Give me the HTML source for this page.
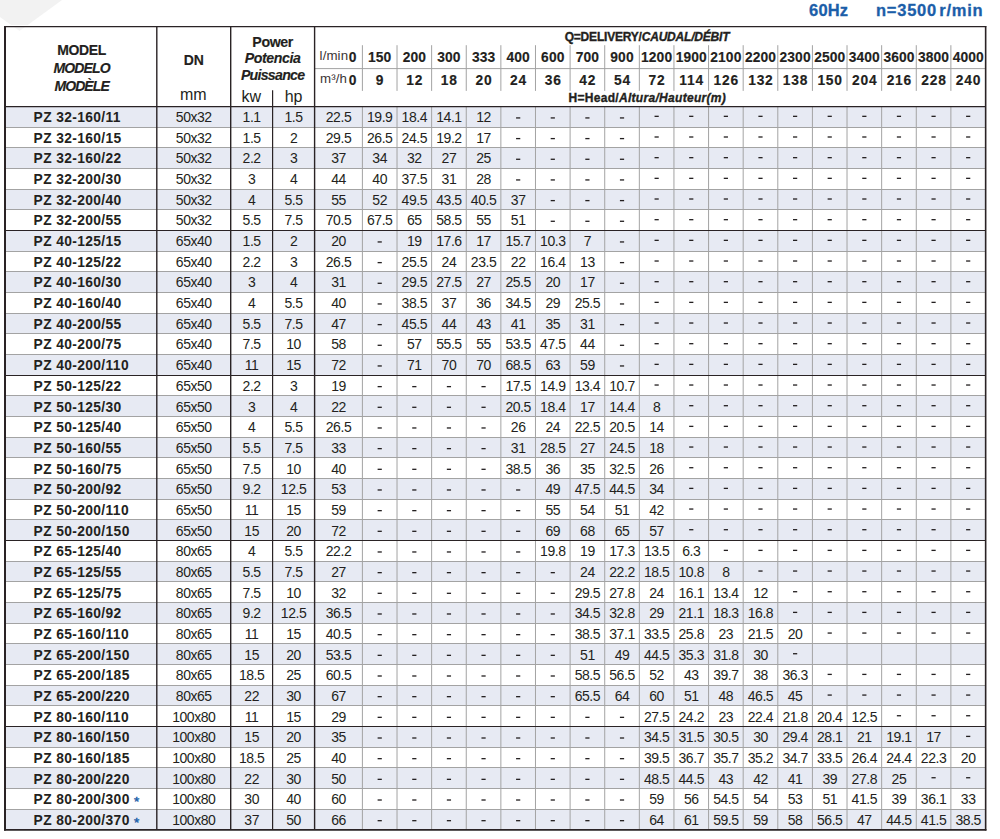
<!DOCTYPE html>
<html><head><meta charset="utf-8"><title>PZ 60Hz</title>
<style>
html,body{margin:0;padding:0;background:#fff;}
body{width:1000px;height:839px;position:relative;overflow:hidden;font-family:"Liberation Sans",sans-serif;color:#231f20;}
div{position:absolute;white-space:nowrap;}
.b{font-weight:bold;-webkit-text-stroke-width:0.15px;}
</style></head><body>
<svg width="1000" height="839" viewBox="0 0 1000 839" style="position:absolute;left:0;top:0"><polygon points="0,0 62,0 19.5,31 0,17" fill="#f2f2f2"/><rect x="0" y="25" width="80" height="1.3" fill="#fff"/><rect x="4.5" y="26.6" width="981.0" height="803.1149999999999" fill="#fff" fill-opacity="0.25"/><rect x="4.5" y="106" width="981.0" height="22" fill="#e7eaf3"/><rect x="4.5" y="147" width="981.0" height="22" fill="#e7eaf3"/><rect x="4.5" y="189" width="981.0" height="21" fill="#e7eaf3"/><rect x="4.5" y="230" width="981.0" height="22" fill="#e7eaf3"/><rect x="4.5" y="271" width="981.0" height="22" fill="#e7eaf3"/><rect x="4.5" y="313" width="981.0" height="21" fill="#e7eaf3"/><rect x="4.5" y="354" width="981.0" height="22" fill="#e7eaf3"/><rect x="4.5" y="395" width="981.0" height="22" fill="#e7eaf3"/><rect x="4.5" y="437" width="981.0" height="21" fill="#e7eaf3"/><rect x="4.5" y="478" width="981.0" height="22" fill="#e7eaf3"/><rect x="4.5" y="519" width="981.0" height="22" fill="#e7eaf3"/><rect x="4.5" y="561" width="981.0" height="21" fill="#e7eaf3"/><rect x="4.5" y="602" width="981.0" height="22" fill="#e7eaf3"/><rect x="4.5" y="643" width="981.0" height="22" fill="#e7eaf3"/><rect x="4.5" y="685" width="981.0" height="21" fill="#e7eaf3"/><rect x="4.5" y="726" width="981.0" height="22" fill="#e7eaf3"/><rect x="4.5" y="767" width="981.0" height="22" fill="#e7eaf3"/><rect x="4.5" y="809" width="981.0" height="21" fill="#e7eaf3"/><line x1="4.5" y1="127.50" x2="985.5" y2="127.50" stroke="#a3a3a3" stroke-width="1"/><line x1="4.5" y1="147.50" x2="985.5" y2="147.50" stroke="#a3a3a3" stroke-width="1"/><line x1="4.5" y1="168.50" x2="985.5" y2="168.50" stroke="#a3a3a3" stroke-width="1"/><line x1="4.5" y1="189.50" x2="985.5" y2="189.50" stroke="#a3a3a3" stroke-width="1"/><line x1="4.5" y1="209.50" x2="985.5" y2="209.50" stroke="#a3a3a3" stroke-width="1"/><line x1="4.5" y1="251.50" x2="985.5" y2="251.50" stroke="#a3a3a3" stroke-width="1"/><line x1="4.5" y1="271.50" x2="985.5" y2="271.50" stroke="#a3a3a3" stroke-width="1"/><line x1="4.5" y1="292.50" x2="985.5" y2="292.50" stroke="#a3a3a3" stroke-width="1"/><line x1="4.5" y1="313.50" x2="985.5" y2="313.50" stroke="#a3a3a3" stroke-width="1"/><line x1="4.5" y1="333.50" x2="985.5" y2="333.50" stroke="#a3a3a3" stroke-width="1"/><line x1="4.5" y1="354.50" x2="985.5" y2="354.50" stroke="#a3a3a3" stroke-width="1"/><line x1="4.5" y1="395.50" x2="985.5" y2="395.50" stroke="#a3a3a3" stroke-width="1"/><line x1="4.5" y1="416.50" x2="985.5" y2="416.50" stroke="#a3a3a3" stroke-width="1"/><line x1="4.5" y1="437.50" x2="985.5" y2="437.50" stroke="#a3a3a3" stroke-width="1"/><line x1="4.5" y1="457.50" x2="985.5" y2="457.50" stroke="#a3a3a3" stroke-width="1"/><line x1="4.5" y1="478.50" x2="985.5" y2="478.50" stroke="#a3a3a3" stroke-width="1"/><line x1="4.5" y1="499.50" x2="985.5" y2="499.50" stroke="#a3a3a3" stroke-width="1"/><line x1="4.5" y1="519.50" x2="985.5" y2="519.50" stroke="#a3a3a3" stroke-width="1"/><line x1="4.5" y1="561.50" x2="985.5" y2="561.50" stroke="#a3a3a3" stroke-width="1"/><line x1="4.5" y1="581.50" x2="985.5" y2="581.50" stroke="#a3a3a3" stroke-width="1"/><line x1="4.5" y1="602.50" x2="985.5" y2="602.50" stroke="#a3a3a3" stroke-width="1"/><line x1="4.5" y1="623.50" x2="985.5" y2="623.50" stroke="#a3a3a3" stroke-width="1"/><line x1="4.5" y1="643.50" x2="985.5" y2="643.50" stroke="#a3a3a3" stroke-width="1"/><line x1="4.5" y1="664.50" x2="985.5" y2="664.50" stroke="#a3a3a3" stroke-width="1"/><line x1="4.5" y1="685.50" x2="985.5" y2="685.50" stroke="#a3a3a3" stroke-width="1"/><line x1="4.5" y1="705.50" x2="985.5" y2="705.50" stroke="#a3a3a3" stroke-width="1"/><line x1="4.5" y1="747.50" x2="985.5" y2="747.50" stroke="#a3a3a3" stroke-width="1"/><line x1="4.5" y1="767.50" x2="985.5" y2="767.50" stroke="#a3a3a3" stroke-width="1"/><line x1="4.5" y1="788.50" x2="985.5" y2="788.50" stroke="#a3a3a3" stroke-width="1"/><line x1="4.5" y1="809.50" x2="985.5" y2="809.50" stroke="#a3a3a3" stroke-width="1"/><line x1="362.40" y1="106.3" x2="362.40" y2="829.71" stroke="#a3a3a3" stroke-width="1"/><line x1="362.40" y1="45.2" x2="362.40" y2="90.9" stroke="#a3a3a3" stroke-width="1"/><line x1="397.02" y1="106.3" x2="397.02" y2="829.71" stroke="#a3a3a3" stroke-width="1"/><line x1="397.02" y1="45.2" x2="397.02" y2="90.9" stroke="#a3a3a3" stroke-width="1"/><line x1="431.63" y1="106.3" x2="431.63" y2="829.71" stroke="#a3a3a3" stroke-width="1"/><line x1="431.63" y1="45.2" x2="431.63" y2="90.9" stroke="#a3a3a3" stroke-width="1"/><line x1="466.25" y1="106.3" x2="466.25" y2="829.71" stroke="#a3a3a3" stroke-width="1"/><line x1="466.25" y1="45.2" x2="466.25" y2="90.9" stroke="#a3a3a3" stroke-width="1"/><line x1="500.87" y1="106.3" x2="500.87" y2="829.71" stroke="#a3a3a3" stroke-width="1"/><line x1="500.87" y1="45.2" x2="500.87" y2="90.9" stroke="#a3a3a3" stroke-width="1"/><line x1="535.48" y1="106.3" x2="535.48" y2="829.71" stroke="#a3a3a3" stroke-width="1"/><line x1="535.48" y1="45.2" x2="535.48" y2="90.9" stroke="#a3a3a3" stroke-width="1"/><line x1="570.10" y1="106.3" x2="570.10" y2="829.71" stroke="#a3a3a3" stroke-width="1"/><line x1="570.10" y1="45.2" x2="570.10" y2="90.9" stroke="#a3a3a3" stroke-width="1"/><line x1="604.72" y1="106.3" x2="604.72" y2="829.71" stroke="#a3a3a3" stroke-width="1"/><line x1="604.72" y1="45.2" x2="604.72" y2="90.9" stroke="#a3a3a3" stroke-width="1"/><line x1="639.33" y1="106.3" x2="639.33" y2="829.71" stroke="#a3a3a3" stroke-width="1"/><line x1="639.33" y1="45.2" x2="639.33" y2="90.9" stroke="#a3a3a3" stroke-width="1"/><line x1="673.95" y1="106.3" x2="673.95" y2="829.71" stroke="#a3a3a3" stroke-width="1"/><line x1="673.95" y1="45.2" x2="673.95" y2="90.9" stroke="#a3a3a3" stroke-width="1"/><line x1="708.57" y1="106.3" x2="708.57" y2="829.71" stroke="#a3a3a3" stroke-width="1"/><line x1="708.57" y1="45.2" x2="708.57" y2="90.9" stroke="#a3a3a3" stroke-width="1"/><line x1="743.18" y1="106.3" x2="743.18" y2="829.71" stroke="#a3a3a3" stroke-width="1"/><line x1="743.18" y1="45.2" x2="743.18" y2="90.9" stroke="#a3a3a3" stroke-width="1"/><line x1="777.80" y1="106.3" x2="777.80" y2="829.71" stroke="#a3a3a3" stroke-width="1"/><line x1="777.80" y1="45.2" x2="777.80" y2="90.9" stroke="#a3a3a3" stroke-width="1"/><line x1="812.42" y1="106.3" x2="812.42" y2="829.71" stroke="#a3a3a3" stroke-width="1"/><line x1="812.42" y1="45.2" x2="812.42" y2="90.9" stroke="#a3a3a3" stroke-width="1"/><line x1="847.03" y1="106.3" x2="847.03" y2="829.71" stroke="#a3a3a3" stroke-width="1"/><line x1="847.03" y1="45.2" x2="847.03" y2="90.9" stroke="#a3a3a3" stroke-width="1"/><line x1="881.65" y1="106.3" x2="881.65" y2="829.71" stroke="#a3a3a3" stroke-width="1"/><line x1="881.65" y1="45.2" x2="881.65" y2="90.9" stroke="#a3a3a3" stroke-width="1"/><line x1="916.27" y1="106.3" x2="916.27" y2="829.71" stroke="#a3a3a3" stroke-width="1"/><line x1="916.27" y1="45.2" x2="916.27" y2="90.9" stroke="#a3a3a3" stroke-width="1"/><line x1="950.88" y1="106.3" x2="950.88" y2="829.71" stroke="#a3a3a3" stroke-width="1"/><line x1="950.88" y1="45.2" x2="950.88" y2="90.9" stroke="#a3a3a3" stroke-width="1"/><line x1="314.6" y1="68.6" x2="985.5" y2="68.6" stroke="#a3a3a3" stroke-width="1"/><line x1="4.5" y1="375.50" x2="985.5" y2="375.50" stroke="#2a2325" stroke-width="1.15"/><line x1="4.5" y1="540.50" x2="985.5" y2="540.50" stroke="#2a2325" stroke-width="1.15"/><line x1="4.5" y1="230.50" x2="985.5" y2="230.50" stroke="#2a2325" stroke-width="1.15"/><line x1="4.5" y1="726.50" x2="985.5" y2="726.50" stroke="#2a2325" stroke-width="1.15"/><line x1="4.5" y1="106.5" x2="985.5" y2="106.5" stroke="#2a2325" stroke-width="1.25"/><line x1="156.8" y1="26.6" x2="156.8" y2="829.71" stroke="#2a2325" stroke-width="1.4"/><line x1="230.7" y1="26.6" x2="230.7" y2="829.71" stroke="#2a2325" stroke-width="1.4"/><line x1="314.6" y1="26.6" x2="314.6" y2="829.71" stroke="#2a2325" stroke-width="1.4"/><line x1="272.6" y1="90.3" x2="272.6" y2="829.71" stroke="#2a2325" stroke-width="1.2"/><line x1="4.0" y1="26.6" x2="986.3" y2="26.6" stroke="#2a2325" stroke-width="1.4"/><line x1="5.0" y1="25.900000000000002" x2="5.0" y2="830.61" stroke="#2a2325" stroke-width="2"/><line x1="985.65" y1="25.900000000000002" x2="985.65" y2="830.61" stroke="#2a2325" stroke-width="1.6"/><line x1="4.0" y1="829.91" x2="986.45" y2="829.91" stroke="#2a2325" stroke-width="1.8"/></svg>
<svg width="1000" height="839" style="position:absolute;left:0;top:0"><rect x="516.07" y="117.28" width="4.2" height="1.3" fill="#231f20"/><rect x="550.69" y="117.28" width="4.2" height="1.3" fill="#231f20"/><rect x="585.31" y="117.28" width="4.2" height="1.3" fill="#231f20"/><rect x="619.92" y="117.28" width="4.2" height="1.3" fill="#231f20"/><rect x="654.54" y="115.68" width="4.2" height="1.3" fill="#231f20"/><rect x="689.16" y="115.68" width="4.2" height="1.3" fill="#231f20"/><rect x="723.77" y="115.68" width="4.2" height="1.3" fill="#231f20"/><rect x="758.39" y="115.68" width="4.2" height="1.3" fill="#231f20"/><rect x="793.01" y="115.68" width="4.2" height="1.3" fill="#231f20"/><rect x="827.62" y="115.68" width="4.2" height="1.3" fill="#231f20"/><rect x="862.24" y="115.68" width="4.2" height="1.3" fill="#231f20"/><rect x="896.86" y="115.68" width="4.2" height="1.3" fill="#231f20"/><rect x="931.48" y="115.68" width="4.2" height="1.3" fill="#231f20"/><rect x="966.09" y="115.68" width="4.2" height="1.3" fill="#231f20"/><rect x="516.07" y="137.95" width="4.2" height="1.3" fill="#231f20"/><rect x="550.69" y="137.95" width="4.2" height="1.3" fill="#231f20"/><rect x="585.31" y="137.95" width="4.2" height="1.3" fill="#231f20"/><rect x="619.92" y="137.95" width="4.2" height="1.3" fill="#231f20"/><rect x="654.54" y="136.35" width="4.2" height="1.3" fill="#231f20"/><rect x="689.16" y="136.35" width="4.2" height="1.3" fill="#231f20"/><rect x="723.77" y="136.35" width="4.2" height="1.3" fill="#231f20"/><rect x="758.39" y="136.35" width="4.2" height="1.3" fill="#231f20"/><rect x="793.01" y="136.35" width="4.2" height="1.3" fill="#231f20"/><rect x="827.62" y="136.35" width="4.2" height="1.3" fill="#231f20"/><rect x="862.24" y="136.35" width="4.2" height="1.3" fill="#231f20"/><rect x="896.86" y="136.35" width="4.2" height="1.3" fill="#231f20"/><rect x="931.48" y="136.35" width="4.2" height="1.3" fill="#231f20"/><rect x="966.09" y="136.35" width="4.2" height="1.3" fill="#231f20"/><rect x="516.07" y="158.62" width="4.2" height="1.3" fill="#231f20"/><rect x="550.69" y="158.62" width="4.2" height="1.3" fill="#231f20"/><rect x="585.31" y="158.62" width="4.2" height="1.3" fill="#231f20"/><rect x="619.92" y="158.62" width="4.2" height="1.3" fill="#231f20"/><rect x="654.54" y="157.02" width="4.2" height="1.3" fill="#231f20"/><rect x="689.16" y="157.02" width="4.2" height="1.3" fill="#231f20"/><rect x="723.77" y="157.02" width="4.2" height="1.3" fill="#231f20"/><rect x="758.39" y="157.02" width="4.2" height="1.3" fill="#231f20"/><rect x="793.01" y="157.02" width="4.2" height="1.3" fill="#231f20"/><rect x="827.62" y="157.02" width="4.2" height="1.3" fill="#231f20"/><rect x="862.24" y="157.02" width="4.2" height="1.3" fill="#231f20"/><rect x="896.86" y="157.02" width="4.2" height="1.3" fill="#231f20"/><rect x="931.48" y="157.02" width="4.2" height="1.3" fill="#231f20"/><rect x="966.09" y="157.02" width="4.2" height="1.3" fill="#231f20"/><rect x="516.07" y="179.29" width="4.2" height="1.3" fill="#231f20"/><rect x="550.69" y="179.29" width="4.2" height="1.3" fill="#231f20"/><rect x="585.31" y="179.29" width="4.2" height="1.3" fill="#231f20"/><rect x="619.92" y="179.29" width="4.2" height="1.3" fill="#231f20"/><rect x="654.54" y="177.69" width="4.2" height="1.3" fill="#231f20"/><rect x="689.16" y="177.69" width="4.2" height="1.3" fill="#231f20"/><rect x="723.77" y="177.69" width="4.2" height="1.3" fill="#231f20"/><rect x="758.39" y="177.69" width="4.2" height="1.3" fill="#231f20"/><rect x="793.01" y="177.69" width="4.2" height="1.3" fill="#231f20"/><rect x="827.62" y="177.69" width="4.2" height="1.3" fill="#231f20"/><rect x="862.24" y="177.69" width="4.2" height="1.3" fill="#231f20"/><rect x="896.86" y="177.69" width="4.2" height="1.3" fill="#231f20"/><rect x="931.48" y="177.69" width="4.2" height="1.3" fill="#231f20"/><rect x="966.09" y="177.69" width="4.2" height="1.3" fill="#231f20"/><rect x="550.69" y="199.96" width="4.2" height="1.3" fill="#231f20"/><rect x="585.31" y="199.96" width="4.2" height="1.3" fill="#231f20"/><rect x="619.92" y="199.96" width="4.2" height="1.3" fill="#231f20"/><rect x="654.54" y="198.36" width="4.2" height="1.3" fill="#231f20"/><rect x="689.16" y="198.36" width="4.2" height="1.3" fill="#231f20"/><rect x="723.77" y="198.36" width="4.2" height="1.3" fill="#231f20"/><rect x="758.39" y="198.36" width="4.2" height="1.3" fill="#231f20"/><rect x="793.01" y="198.36" width="4.2" height="1.3" fill="#231f20"/><rect x="827.62" y="198.36" width="4.2" height="1.3" fill="#231f20"/><rect x="862.24" y="198.36" width="4.2" height="1.3" fill="#231f20"/><rect x="896.86" y="198.36" width="4.2" height="1.3" fill="#231f20"/><rect x="931.48" y="198.36" width="4.2" height="1.3" fill="#231f20"/><rect x="966.09" y="198.36" width="4.2" height="1.3" fill="#231f20"/><rect x="550.69" y="220.63" width="4.2" height="1.3" fill="#231f20"/><rect x="585.31" y="220.63" width="4.2" height="1.3" fill="#231f20"/><rect x="619.92" y="220.63" width="4.2" height="1.3" fill="#231f20"/><rect x="654.54" y="219.03" width="4.2" height="1.3" fill="#231f20"/><rect x="689.16" y="219.03" width="4.2" height="1.3" fill="#231f20"/><rect x="723.77" y="219.03" width="4.2" height="1.3" fill="#231f20"/><rect x="758.39" y="219.03" width="4.2" height="1.3" fill="#231f20"/><rect x="793.01" y="219.03" width="4.2" height="1.3" fill="#231f20"/><rect x="827.62" y="219.03" width="4.2" height="1.3" fill="#231f20"/><rect x="862.24" y="219.03" width="4.2" height="1.3" fill="#231f20"/><rect x="896.86" y="219.03" width="4.2" height="1.3" fill="#231f20"/><rect x="931.48" y="219.03" width="4.2" height="1.3" fill="#231f20"/><rect x="966.09" y="219.03" width="4.2" height="1.3" fill="#231f20"/><rect x="377.61" y="241.30" width="4.2" height="1.3" fill="#231f20"/><rect x="619.92" y="241.30" width="4.2" height="1.3" fill="#231f20"/><rect x="654.54" y="239.70" width="4.2" height="1.3" fill="#231f20"/><rect x="689.16" y="239.70" width="4.2" height="1.3" fill="#231f20"/><rect x="723.77" y="239.70" width="4.2" height="1.3" fill="#231f20"/><rect x="758.39" y="239.70" width="4.2" height="1.3" fill="#231f20"/><rect x="793.01" y="239.70" width="4.2" height="1.3" fill="#231f20"/><rect x="827.62" y="239.70" width="4.2" height="1.3" fill="#231f20"/><rect x="862.24" y="239.70" width="4.2" height="1.3" fill="#231f20"/><rect x="896.86" y="239.70" width="4.2" height="1.3" fill="#231f20"/><rect x="931.48" y="239.70" width="4.2" height="1.3" fill="#231f20"/><rect x="966.09" y="239.70" width="4.2" height="1.3" fill="#231f20"/><rect x="377.61" y="261.97" width="4.2" height="1.3" fill="#231f20"/><rect x="619.92" y="261.97" width="4.2" height="1.3" fill="#231f20"/><rect x="654.54" y="260.37" width="4.2" height="1.3" fill="#231f20"/><rect x="689.16" y="260.37" width="4.2" height="1.3" fill="#231f20"/><rect x="723.77" y="260.37" width="4.2" height="1.3" fill="#231f20"/><rect x="758.39" y="260.37" width="4.2" height="1.3" fill="#231f20"/><rect x="793.01" y="260.37" width="4.2" height="1.3" fill="#231f20"/><rect x="827.62" y="260.37" width="4.2" height="1.3" fill="#231f20"/><rect x="862.24" y="260.37" width="4.2" height="1.3" fill="#231f20"/><rect x="896.86" y="260.37" width="4.2" height="1.3" fill="#231f20"/><rect x="931.48" y="260.37" width="4.2" height="1.3" fill="#231f20"/><rect x="966.09" y="260.37" width="4.2" height="1.3" fill="#231f20"/><rect x="377.61" y="282.64" width="4.2" height="1.3" fill="#231f20"/><rect x="619.92" y="282.64" width="4.2" height="1.3" fill="#231f20"/><rect x="654.54" y="281.04" width="4.2" height="1.3" fill="#231f20"/><rect x="689.16" y="281.04" width="4.2" height="1.3" fill="#231f20"/><rect x="723.77" y="281.04" width="4.2" height="1.3" fill="#231f20"/><rect x="758.39" y="281.04" width="4.2" height="1.3" fill="#231f20"/><rect x="793.01" y="281.04" width="4.2" height="1.3" fill="#231f20"/><rect x="827.62" y="281.04" width="4.2" height="1.3" fill="#231f20"/><rect x="862.24" y="281.04" width="4.2" height="1.3" fill="#231f20"/><rect x="896.86" y="281.04" width="4.2" height="1.3" fill="#231f20"/><rect x="931.48" y="281.04" width="4.2" height="1.3" fill="#231f20"/><rect x="966.09" y="281.04" width="4.2" height="1.3" fill="#231f20"/><rect x="377.61" y="303.31" width="4.2" height="1.3" fill="#231f20"/><rect x="619.92" y="303.31" width="4.2" height="1.3" fill="#231f20"/><rect x="654.54" y="301.71" width="4.2" height="1.3" fill="#231f20"/><rect x="689.16" y="301.71" width="4.2" height="1.3" fill="#231f20"/><rect x="723.77" y="301.71" width="4.2" height="1.3" fill="#231f20"/><rect x="758.39" y="301.71" width="4.2" height="1.3" fill="#231f20"/><rect x="793.01" y="301.71" width="4.2" height="1.3" fill="#231f20"/><rect x="827.62" y="301.71" width="4.2" height="1.3" fill="#231f20"/><rect x="862.24" y="301.71" width="4.2" height="1.3" fill="#231f20"/><rect x="896.86" y="301.71" width="4.2" height="1.3" fill="#231f20"/><rect x="931.48" y="301.71" width="4.2" height="1.3" fill="#231f20"/><rect x="966.09" y="301.71" width="4.2" height="1.3" fill="#231f20"/><rect x="377.61" y="323.97" width="4.2" height="1.3" fill="#231f20"/><rect x="619.92" y="323.97" width="4.2" height="1.3" fill="#231f20"/><rect x="654.54" y="322.37" width="4.2" height="1.3" fill="#231f20"/><rect x="689.16" y="322.37" width="4.2" height="1.3" fill="#231f20"/><rect x="723.77" y="322.37" width="4.2" height="1.3" fill="#231f20"/><rect x="758.39" y="322.37" width="4.2" height="1.3" fill="#231f20"/><rect x="793.01" y="322.37" width="4.2" height="1.3" fill="#231f20"/><rect x="827.62" y="322.37" width="4.2" height="1.3" fill="#231f20"/><rect x="862.24" y="322.37" width="4.2" height="1.3" fill="#231f20"/><rect x="896.86" y="322.37" width="4.2" height="1.3" fill="#231f20"/><rect x="931.48" y="322.37" width="4.2" height="1.3" fill="#231f20"/><rect x="966.09" y="322.37" width="4.2" height="1.3" fill="#231f20"/><rect x="377.61" y="344.64" width="4.2" height="1.3" fill="#231f20"/><rect x="619.92" y="344.64" width="4.2" height="1.3" fill="#231f20"/><rect x="654.54" y="343.04" width="4.2" height="1.3" fill="#231f20"/><rect x="689.16" y="343.04" width="4.2" height="1.3" fill="#231f20"/><rect x="723.77" y="343.04" width="4.2" height="1.3" fill="#231f20"/><rect x="758.39" y="343.04" width="4.2" height="1.3" fill="#231f20"/><rect x="793.01" y="343.04" width="4.2" height="1.3" fill="#231f20"/><rect x="827.62" y="343.04" width="4.2" height="1.3" fill="#231f20"/><rect x="862.24" y="343.04" width="4.2" height="1.3" fill="#231f20"/><rect x="896.86" y="343.04" width="4.2" height="1.3" fill="#231f20"/><rect x="931.48" y="343.04" width="4.2" height="1.3" fill="#231f20"/><rect x="966.09" y="343.04" width="4.2" height="1.3" fill="#231f20"/><rect x="377.61" y="365.31" width="4.2" height="1.3" fill="#231f20"/><rect x="619.92" y="365.31" width="4.2" height="1.3" fill="#231f20"/><rect x="654.54" y="363.71" width="4.2" height="1.3" fill="#231f20"/><rect x="689.16" y="363.71" width="4.2" height="1.3" fill="#231f20"/><rect x="723.77" y="363.71" width="4.2" height="1.3" fill="#231f20"/><rect x="758.39" y="363.71" width="4.2" height="1.3" fill="#231f20"/><rect x="793.01" y="363.71" width="4.2" height="1.3" fill="#231f20"/><rect x="827.62" y="363.71" width="4.2" height="1.3" fill="#231f20"/><rect x="862.24" y="363.71" width="4.2" height="1.3" fill="#231f20"/><rect x="896.86" y="363.71" width="4.2" height="1.3" fill="#231f20"/><rect x="931.48" y="363.71" width="4.2" height="1.3" fill="#231f20"/><rect x="966.09" y="363.71" width="4.2" height="1.3" fill="#231f20"/><rect x="377.61" y="385.98" width="4.2" height="1.3" fill="#231f20"/><rect x="412.22" y="385.98" width="4.2" height="1.3" fill="#231f20"/><rect x="446.84" y="385.98" width="4.2" height="1.3" fill="#231f20"/><rect x="481.46" y="385.98" width="4.2" height="1.3" fill="#231f20"/><rect x="654.54" y="384.38" width="4.2" height="1.3" fill="#231f20"/><rect x="689.16" y="384.38" width="4.2" height="1.3" fill="#231f20"/><rect x="723.77" y="384.38" width="4.2" height="1.3" fill="#231f20"/><rect x="758.39" y="384.38" width="4.2" height="1.3" fill="#231f20"/><rect x="793.01" y="384.38" width="4.2" height="1.3" fill="#231f20"/><rect x="827.62" y="384.38" width="4.2" height="1.3" fill="#231f20"/><rect x="862.24" y="384.38" width="4.2" height="1.3" fill="#231f20"/><rect x="896.86" y="384.38" width="4.2" height="1.3" fill="#231f20"/><rect x="931.48" y="384.38" width="4.2" height="1.3" fill="#231f20"/><rect x="966.09" y="384.38" width="4.2" height="1.3" fill="#231f20"/><rect x="377.61" y="406.65" width="4.2" height="1.3" fill="#231f20"/><rect x="412.22" y="406.65" width="4.2" height="1.3" fill="#231f20"/><rect x="446.84" y="406.65" width="4.2" height="1.3" fill="#231f20"/><rect x="481.46" y="406.65" width="4.2" height="1.3" fill="#231f20"/><rect x="689.16" y="405.05" width="4.2" height="1.3" fill="#231f20"/><rect x="723.77" y="405.05" width="4.2" height="1.3" fill="#231f20"/><rect x="758.39" y="405.05" width="4.2" height="1.3" fill="#231f20"/><rect x="793.01" y="405.05" width="4.2" height="1.3" fill="#231f20"/><rect x="827.62" y="405.05" width="4.2" height="1.3" fill="#231f20"/><rect x="862.24" y="405.05" width="4.2" height="1.3" fill="#231f20"/><rect x="896.86" y="405.05" width="4.2" height="1.3" fill="#231f20"/><rect x="931.48" y="405.05" width="4.2" height="1.3" fill="#231f20"/><rect x="966.09" y="405.05" width="4.2" height="1.3" fill="#231f20"/><rect x="377.61" y="427.32" width="4.2" height="1.3" fill="#231f20"/><rect x="412.22" y="427.32" width="4.2" height="1.3" fill="#231f20"/><rect x="446.84" y="427.32" width="4.2" height="1.3" fill="#231f20"/><rect x="481.46" y="427.32" width="4.2" height="1.3" fill="#231f20"/><rect x="689.16" y="425.72" width="4.2" height="1.3" fill="#231f20"/><rect x="723.77" y="425.72" width="4.2" height="1.3" fill="#231f20"/><rect x="758.39" y="425.72" width="4.2" height="1.3" fill="#231f20"/><rect x="793.01" y="425.72" width="4.2" height="1.3" fill="#231f20"/><rect x="827.62" y="425.72" width="4.2" height="1.3" fill="#231f20"/><rect x="862.24" y="425.72" width="4.2" height="1.3" fill="#231f20"/><rect x="896.86" y="425.72" width="4.2" height="1.3" fill="#231f20"/><rect x="931.48" y="425.72" width="4.2" height="1.3" fill="#231f20"/><rect x="966.09" y="425.72" width="4.2" height="1.3" fill="#231f20"/><rect x="377.61" y="447.99" width="4.2" height="1.3" fill="#231f20"/><rect x="412.22" y="447.99" width="4.2" height="1.3" fill="#231f20"/><rect x="446.84" y="447.99" width="4.2" height="1.3" fill="#231f20"/><rect x="481.46" y="447.99" width="4.2" height="1.3" fill="#231f20"/><rect x="689.16" y="446.39" width="4.2" height="1.3" fill="#231f20"/><rect x="723.77" y="446.39" width="4.2" height="1.3" fill="#231f20"/><rect x="758.39" y="446.39" width="4.2" height="1.3" fill="#231f20"/><rect x="793.01" y="446.39" width="4.2" height="1.3" fill="#231f20"/><rect x="827.62" y="446.39" width="4.2" height="1.3" fill="#231f20"/><rect x="862.24" y="446.39" width="4.2" height="1.3" fill="#231f20"/><rect x="896.86" y="446.39" width="4.2" height="1.3" fill="#231f20"/><rect x="931.48" y="446.39" width="4.2" height="1.3" fill="#231f20"/><rect x="966.09" y="446.39" width="4.2" height="1.3" fill="#231f20"/><rect x="377.61" y="468.66" width="4.2" height="1.3" fill="#231f20"/><rect x="412.22" y="468.66" width="4.2" height="1.3" fill="#231f20"/><rect x="446.84" y="468.66" width="4.2" height="1.3" fill="#231f20"/><rect x="481.46" y="468.66" width="4.2" height="1.3" fill="#231f20"/><rect x="689.16" y="467.06" width="4.2" height="1.3" fill="#231f20"/><rect x="723.77" y="467.06" width="4.2" height="1.3" fill="#231f20"/><rect x="758.39" y="467.06" width="4.2" height="1.3" fill="#231f20"/><rect x="793.01" y="467.06" width="4.2" height="1.3" fill="#231f20"/><rect x="827.62" y="467.06" width="4.2" height="1.3" fill="#231f20"/><rect x="862.24" y="467.06" width="4.2" height="1.3" fill="#231f20"/><rect x="896.86" y="467.06" width="4.2" height="1.3" fill="#231f20"/><rect x="931.48" y="467.06" width="4.2" height="1.3" fill="#231f20"/><rect x="966.09" y="467.06" width="4.2" height="1.3" fill="#231f20"/><rect x="377.61" y="489.33" width="4.2" height="1.3" fill="#231f20"/><rect x="412.22" y="489.33" width="4.2" height="1.3" fill="#231f20"/><rect x="446.84" y="489.33" width="4.2" height="1.3" fill="#231f20"/><rect x="481.46" y="489.33" width="4.2" height="1.3" fill="#231f20"/><rect x="516.07" y="489.33" width="4.2" height="1.3" fill="#231f20"/><rect x="689.16" y="487.73" width="4.2" height="1.3" fill="#231f20"/><rect x="723.77" y="487.73" width="4.2" height="1.3" fill="#231f20"/><rect x="758.39" y="487.73" width="4.2" height="1.3" fill="#231f20"/><rect x="793.01" y="487.73" width="4.2" height="1.3" fill="#231f20"/><rect x="827.62" y="487.73" width="4.2" height="1.3" fill="#231f20"/><rect x="862.24" y="487.73" width="4.2" height="1.3" fill="#231f20"/><rect x="896.86" y="487.73" width="4.2" height="1.3" fill="#231f20"/><rect x="931.48" y="487.73" width="4.2" height="1.3" fill="#231f20"/><rect x="966.09" y="487.73" width="4.2" height="1.3" fill="#231f20"/><rect x="377.61" y="510.00" width="4.2" height="1.3" fill="#231f20"/><rect x="412.22" y="510.00" width="4.2" height="1.3" fill="#231f20"/><rect x="446.84" y="510.00" width="4.2" height="1.3" fill="#231f20"/><rect x="481.46" y="510.00" width="4.2" height="1.3" fill="#231f20"/><rect x="516.07" y="510.00" width="4.2" height="1.3" fill="#231f20"/><rect x="689.16" y="508.40" width="4.2" height="1.3" fill="#231f20"/><rect x="723.77" y="508.40" width="4.2" height="1.3" fill="#231f20"/><rect x="758.39" y="508.40" width="4.2" height="1.3" fill="#231f20"/><rect x="793.01" y="508.40" width="4.2" height="1.3" fill="#231f20"/><rect x="827.62" y="508.40" width="4.2" height="1.3" fill="#231f20"/><rect x="862.24" y="508.40" width="4.2" height="1.3" fill="#231f20"/><rect x="896.86" y="508.40" width="4.2" height="1.3" fill="#231f20"/><rect x="931.48" y="508.40" width="4.2" height="1.3" fill="#231f20"/><rect x="966.09" y="508.40" width="4.2" height="1.3" fill="#231f20"/><rect x="377.61" y="530.66" width="4.2" height="1.3" fill="#231f20"/><rect x="412.22" y="530.66" width="4.2" height="1.3" fill="#231f20"/><rect x="446.84" y="530.66" width="4.2" height="1.3" fill="#231f20"/><rect x="481.46" y="530.66" width="4.2" height="1.3" fill="#231f20"/><rect x="516.07" y="530.66" width="4.2" height="1.3" fill="#231f20"/><rect x="689.16" y="529.06" width="4.2" height="1.3" fill="#231f20"/><rect x="723.77" y="529.06" width="4.2" height="1.3" fill="#231f20"/><rect x="758.39" y="529.06" width="4.2" height="1.3" fill="#231f20"/><rect x="793.01" y="529.06" width="4.2" height="1.3" fill="#231f20"/><rect x="827.62" y="529.06" width="4.2" height="1.3" fill="#231f20"/><rect x="862.24" y="529.06" width="4.2" height="1.3" fill="#231f20"/><rect x="896.86" y="529.06" width="4.2" height="1.3" fill="#231f20"/><rect x="931.48" y="529.06" width="4.2" height="1.3" fill="#231f20"/><rect x="966.09" y="529.06" width="4.2" height="1.3" fill="#231f20"/><rect x="377.61" y="551.33" width="4.2" height="1.3" fill="#231f20"/><rect x="412.22" y="551.33" width="4.2" height="1.3" fill="#231f20"/><rect x="446.84" y="551.33" width="4.2" height="1.3" fill="#231f20"/><rect x="481.46" y="551.33" width="4.2" height="1.3" fill="#231f20"/><rect x="516.07" y="551.33" width="4.2" height="1.3" fill="#231f20"/><rect x="723.77" y="549.73" width="4.2" height="1.3" fill="#231f20"/><rect x="758.39" y="549.73" width="4.2" height="1.3" fill="#231f20"/><rect x="793.01" y="549.73" width="4.2" height="1.3" fill="#231f20"/><rect x="827.62" y="549.73" width="4.2" height="1.3" fill="#231f20"/><rect x="862.24" y="549.73" width="4.2" height="1.3" fill="#231f20"/><rect x="896.86" y="549.73" width="4.2" height="1.3" fill="#231f20"/><rect x="931.48" y="549.73" width="4.2" height="1.3" fill="#231f20"/><rect x="966.09" y="549.73" width="4.2" height="1.3" fill="#231f20"/><rect x="377.61" y="572.00" width="4.2" height="1.3" fill="#231f20"/><rect x="412.22" y="572.00" width="4.2" height="1.3" fill="#231f20"/><rect x="446.84" y="572.00" width="4.2" height="1.3" fill="#231f20"/><rect x="481.46" y="572.00" width="4.2" height="1.3" fill="#231f20"/><rect x="516.07" y="572.00" width="4.2" height="1.3" fill="#231f20"/><rect x="550.69" y="572.00" width="4.2" height="1.3" fill="#231f20"/><rect x="758.39" y="570.40" width="4.2" height="1.3" fill="#231f20"/><rect x="793.01" y="570.40" width="4.2" height="1.3" fill="#231f20"/><rect x="827.62" y="570.40" width="4.2" height="1.3" fill="#231f20"/><rect x="862.24" y="570.40" width="4.2" height="1.3" fill="#231f20"/><rect x="896.86" y="570.40" width="4.2" height="1.3" fill="#231f20"/><rect x="931.48" y="570.40" width="4.2" height="1.3" fill="#231f20"/><rect x="966.09" y="570.40" width="4.2" height="1.3" fill="#231f20"/><rect x="377.61" y="592.67" width="4.2" height="1.3" fill="#231f20"/><rect x="412.22" y="592.67" width="4.2" height="1.3" fill="#231f20"/><rect x="446.84" y="592.67" width="4.2" height="1.3" fill="#231f20"/><rect x="481.46" y="592.67" width="4.2" height="1.3" fill="#231f20"/><rect x="516.07" y="592.67" width="4.2" height="1.3" fill="#231f20"/><rect x="550.69" y="592.67" width="4.2" height="1.3" fill="#231f20"/><rect x="793.01" y="591.07" width="4.2" height="1.3" fill="#231f20"/><rect x="827.62" y="591.07" width="4.2" height="1.3" fill="#231f20"/><rect x="862.24" y="591.07" width="4.2" height="1.3" fill="#231f20"/><rect x="896.86" y="591.07" width="4.2" height="1.3" fill="#231f20"/><rect x="931.48" y="591.07" width="4.2" height="1.3" fill="#231f20"/><rect x="966.09" y="591.07" width="4.2" height="1.3" fill="#231f20"/><rect x="377.61" y="613.34" width="4.2" height="1.3" fill="#231f20"/><rect x="412.22" y="613.34" width="4.2" height="1.3" fill="#231f20"/><rect x="446.84" y="613.34" width="4.2" height="1.3" fill="#231f20"/><rect x="481.46" y="613.34" width="4.2" height="1.3" fill="#231f20"/><rect x="516.07" y="613.34" width="4.2" height="1.3" fill="#231f20"/><rect x="550.69" y="613.34" width="4.2" height="1.3" fill="#231f20"/><rect x="793.01" y="611.74" width="4.2" height="1.3" fill="#231f20"/><rect x="827.62" y="611.74" width="4.2" height="1.3" fill="#231f20"/><rect x="862.24" y="611.74" width="4.2" height="1.3" fill="#231f20"/><rect x="896.86" y="611.74" width="4.2" height="1.3" fill="#231f20"/><rect x="931.48" y="611.74" width="4.2" height="1.3" fill="#231f20"/><rect x="966.09" y="611.74" width="4.2" height="1.3" fill="#231f20"/><rect x="377.61" y="634.01" width="4.2" height="1.3" fill="#231f20"/><rect x="412.22" y="634.01" width="4.2" height="1.3" fill="#231f20"/><rect x="446.84" y="634.01" width="4.2" height="1.3" fill="#231f20"/><rect x="481.46" y="634.01" width="4.2" height="1.3" fill="#231f20"/><rect x="516.07" y="634.01" width="4.2" height="1.3" fill="#231f20"/><rect x="550.69" y="634.01" width="4.2" height="1.3" fill="#231f20"/><rect x="827.62" y="632.41" width="4.2" height="1.3" fill="#231f20"/><rect x="862.24" y="632.41" width="4.2" height="1.3" fill="#231f20"/><rect x="896.86" y="632.41" width="4.2" height="1.3" fill="#231f20"/><rect x="931.48" y="632.41" width="4.2" height="1.3" fill="#231f20"/><rect x="966.09" y="632.41" width="4.2" height="1.3" fill="#231f20"/><rect x="377.61" y="654.68" width="4.2" height="1.3" fill="#231f20"/><rect x="412.22" y="654.68" width="4.2" height="1.3" fill="#231f20"/><rect x="446.84" y="654.68" width="4.2" height="1.3" fill="#231f20"/><rect x="481.46" y="654.68" width="4.2" height="1.3" fill="#231f20"/><rect x="516.07" y="654.68" width="4.2" height="1.3" fill="#231f20"/><rect x="550.69" y="654.68" width="4.2" height="1.3" fill="#231f20"/><rect x="793.01" y="653.08" width="4.2" height="1.3" fill="#231f20"/><rect x="377.61" y="675.35" width="4.2" height="1.3" fill="#231f20"/><rect x="412.22" y="675.35" width="4.2" height="1.3" fill="#231f20"/><rect x="446.84" y="675.35" width="4.2" height="1.3" fill="#231f20"/><rect x="481.46" y="675.35" width="4.2" height="1.3" fill="#231f20"/><rect x="516.07" y="675.35" width="4.2" height="1.3" fill="#231f20"/><rect x="550.69" y="675.35" width="4.2" height="1.3" fill="#231f20"/><rect x="827.62" y="673.75" width="4.2" height="1.3" fill="#231f20"/><rect x="862.24" y="673.75" width="4.2" height="1.3" fill="#231f20"/><rect x="896.86" y="673.75" width="4.2" height="1.3" fill="#231f20"/><rect x="931.48" y="673.75" width="4.2" height="1.3" fill="#231f20"/><rect x="966.09" y="673.75" width="4.2" height="1.3" fill="#231f20"/><rect x="377.61" y="696.02" width="4.2" height="1.3" fill="#231f20"/><rect x="412.22" y="696.02" width="4.2" height="1.3" fill="#231f20"/><rect x="446.84" y="696.02" width="4.2" height="1.3" fill="#231f20"/><rect x="481.46" y="696.02" width="4.2" height="1.3" fill="#231f20"/><rect x="516.07" y="696.02" width="4.2" height="1.3" fill="#231f20"/><rect x="550.69" y="696.02" width="4.2" height="1.3" fill="#231f20"/><rect x="827.62" y="694.42" width="4.2" height="1.3" fill="#231f20"/><rect x="862.24" y="694.42" width="4.2" height="1.3" fill="#231f20"/><rect x="896.86" y="694.42" width="4.2" height="1.3" fill="#231f20"/><rect x="931.48" y="694.42" width="4.2" height="1.3" fill="#231f20"/><rect x="966.09" y="694.42" width="4.2" height="1.3" fill="#231f20"/><rect x="377.61" y="716.69" width="4.2" height="1.3" fill="#231f20"/><rect x="412.22" y="716.69" width="4.2" height="1.3" fill="#231f20"/><rect x="446.84" y="716.69" width="4.2" height="1.3" fill="#231f20"/><rect x="481.46" y="716.69" width="4.2" height="1.3" fill="#231f20"/><rect x="516.07" y="716.69" width="4.2" height="1.3" fill="#231f20"/><rect x="550.69" y="716.69" width="4.2" height="1.3" fill="#231f20"/><rect x="585.31" y="716.69" width="4.2" height="1.3" fill="#231f20"/><rect x="619.92" y="716.69" width="4.2" height="1.3" fill="#231f20"/><rect x="896.86" y="715.09" width="4.2" height="1.3" fill="#231f20"/><rect x="931.48" y="715.09" width="4.2" height="1.3" fill="#231f20"/><rect x="966.09" y="715.09" width="4.2" height="1.3" fill="#231f20"/><rect x="377.61" y="737.35" width="4.2" height="1.3" fill="#231f20"/><rect x="412.22" y="737.35" width="4.2" height="1.3" fill="#231f20"/><rect x="446.84" y="737.35" width="4.2" height="1.3" fill="#231f20"/><rect x="481.46" y="737.35" width="4.2" height="1.3" fill="#231f20"/><rect x="516.07" y="737.35" width="4.2" height="1.3" fill="#231f20"/><rect x="550.69" y="737.35" width="4.2" height="1.3" fill="#231f20"/><rect x="585.31" y="737.35" width="4.2" height="1.3" fill="#231f20"/><rect x="619.92" y="737.35" width="4.2" height="1.3" fill="#231f20"/><rect x="966.09" y="735.75" width="4.2" height="1.3" fill="#231f20"/><rect x="377.61" y="758.02" width="4.2" height="1.3" fill="#231f20"/><rect x="412.22" y="758.02" width="4.2" height="1.3" fill="#231f20"/><rect x="446.84" y="758.02" width="4.2" height="1.3" fill="#231f20"/><rect x="481.46" y="758.02" width="4.2" height="1.3" fill="#231f20"/><rect x="516.07" y="758.02" width="4.2" height="1.3" fill="#231f20"/><rect x="550.69" y="758.02" width="4.2" height="1.3" fill="#231f20"/><rect x="585.31" y="758.02" width="4.2" height="1.3" fill="#231f20"/><rect x="619.92" y="758.02" width="4.2" height="1.3" fill="#231f20"/><rect x="377.61" y="778.69" width="4.2" height="1.3" fill="#231f20"/><rect x="412.22" y="778.69" width="4.2" height="1.3" fill="#231f20"/><rect x="446.84" y="778.69" width="4.2" height="1.3" fill="#231f20"/><rect x="481.46" y="778.69" width="4.2" height="1.3" fill="#231f20"/><rect x="516.07" y="778.69" width="4.2" height="1.3" fill="#231f20"/><rect x="550.69" y="778.69" width="4.2" height="1.3" fill="#231f20"/><rect x="585.31" y="778.69" width="4.2" height="1.3" fill="#231f20"/><rect x="619.92" y="778.69" width="4.2" height="1.3" fill="#231f20"/><rect x="931.48" y="777.09" width="4.2" height="1.3" fill="#231f20"/><rect x="966.09" y="777.09" width="4.2" height="1.3" fill="#231f20"/><rect x="377.61" y="799.36" width="4.2" height="1.3" fill="#231f20"/><rect x="412.22" y="799.36" width="4.2" height="1.3" fill="#231f20"/><rect x="446.84" y="799.36" width="4.2" height="1.3" fill="#231f20"/><rect x="481.46" y="799.36" width="4.2" height="1.3" fill="#231f20"/><rect x="516.07" y="799.36" width="4.2" height="1.3" fill="#231f20"/><rect x="550.69" y="799.36" width="4.2" height="1.3" fill="#231f20"/><rect x="585.31" y="799.36" width="4.2" height="1.3" fill="#231f20"/><rect x="619.92" y="799.36" width="4.2" height="1.3" fill="#231f20"/><rect x="377.61" y="820.03" width="4.2" height="1.3" fill="#231f20"/><rect x="412.22" y="820.03" width="4.2" height="1.3" fill="#231f20"/><rect x="446.84" y="820.03" width="4.2" height="1.3" fill="#231f20"/><rect x="481.46" y="820.03" width="4.2" height="1.3" fill="#231f20"/><rect x="516.07" y="820.03" width="4.2" height="1.3" fill="#231f20"/><rect x="550.69" y="820.03" width="4.2" height="1.3" fill="#231f20"/><rect x="585.31" y="820.03" width="4.2" height="1.3" fill="#231f20"/><rect x="619.92" y="820.03" width="4.2" height="1.3" fill="#231f20"/></svg>
<div class="b" style="top:0.67px;font-size:16.5px;line-height:18.43px;left:809.00px;letter-spacing:0.2px;color:#1b5ea9;-webkit-text-stroke-width:0.3px;">60Hz</div><div class="b" style="top:0.67px;font-size:16.5px;line-height:18.43px;left:876.00px;letter-spacing:0.75px;color:#1b5ea9;-webkit-text-stroke-width:0.3px;word-spacing:-3px;">n=3500 r/min</div><div class="b" style="top:43.13px;font-size:14px;line-height:15.64px;left:11.65px;width:140.00px;text-align:center;letter-spacing:-0.4px;">MODEL</div><div class="b" style="top:60.63px;font-size:14px;line-height:15.64px;left:11.65px;width:140.00px;text-align:center;font-style:italic;letter-spacing:-0.9px;">MODELO</div><div class="b" style="top:79.13px;font-size:14px;line-height:15.64px;left:11.65px;width:140.00px;text-align:center;font-style:italic;letter-spacing:-0.9px;">MODÈLE</div><div class="b" style="top:53.13px;font-size:14px;line-height:15.64px;left:158.75px;width:70.00px;text-align:center;letter-spacing:-0.2px;">DN</div><div style="top:85.52px;font-size:16px;line-height:17.87px;left:158.25px;width:70.00px;text-align:center;letter-spacing:-0.2px;">mm</div><div class="b" style="top:34.75px;font-size:14.2px;line-height:15.86px;left:230.65px;width:84.00px;text-align:center;letter-spacing:-0.4px;">Power</div><div class="b" style="top:51.25px;font-size:14.2px;line-height:15.86px;left:230.65px;width:84.00px;text-align:center;font-style:italic;letter-spacing:-0.4px;">Potencia</div><div class="b" style="top:68.15px;font-size:14.2px;line-height:15.86px;left:230.65px;width:84.00px;text-align:center;font-style:italic;letter-spacing:-0.75px;">Puissance</div><div style="top:87.52px;font-size:16px;line-height:17.87px;left:231.35px;width:40.00px;text-align:center;">kw</div><div style="top:87.52px;font-size:16px;line-height:17.87px;left:273.60px;width:40.00px;text-align:center;">hp</div><div class="b" style="top:30.94px;font-size:12px;line-height:13.40px;left:497.00px;width:300.00px;text-align:center;letter-spacing:-0.2px;-webkit-text-stroke-width:0.35px;"><span style="font-weight:bold">Q=DELIVERY/</span><i>CAUDAL/DÉBIT</i></div><div class="b" style="top:91.64px;font-size:12px;line-height:13.40px;left:497.30px;width:300.00px;text-align:center;letter-spacing:0.3px;-webkit-text-stroke-width:0.35px;">H=Head/<i>Altura/Hauteur(m)</i></div><div style="top:48.76px;font-size:13.3px;line-height:14.86px;left:319.60px;letter-spacing:0.1px;color:#3b3536;">l/min</div><div style="top:72.06px;font-size:13.3px;line-height:14.86px;left:320.00px;letter-spacing:0.1px;color:#3b3536;">m³/h</div><div class="b" style="top:49.51px;font-size:13.8px;line-height:15.41px;left:342.60px;width:20.00px;text-align:center;">0</div><div class="b" style="top:72.91px;font-size:13.8px;line-height:15.41px;left:342.60px;width:20.00px;text-align:center;">0</div><div class="b" style="top:49.51px;font-size:13.8px;line-height:15.41px;left:359.71px;width:40.00px;text-align:center;letter-spacing:0.1px;">150</div><div class="b" style="top:72.91px;font-size:13.8px;line-height:15.41px;left:360.11px;width:40.00px;text-align:center;letter-spacing:0.8px;">9</div><div class="b" style="top:49.51px;font-size:13.8px;line-height:15.41px;left:394.32px;width:40.00px;text-align:center;letter-spacing:0.1px;">200</div><div class="b" style="top:72.91px;font-size:13.8px;line-height:15.41px;left:394.72px;width:40.00px;text-align:center;letter-spacing:0.8px;">12</div><div class="b" style="top:49.51px;font-size:13.8px;line-height:15.41px;left:428.94px;width:40.00px;text-align:center;letter-spacing:0.1px;">300</div><div class="b" style="top:72.91px;font-size:13.8px;line-height:15.41px;left:429.34px;width:40.00px;text-align:center;letter-spacing:0.8px;">18</div><div class="b" style="top:49.51px;font-size:13.8px;line-height:15.41px;left:463.56px;width:40.00px;text-align:center;letter-spacing:0.1px;">333</div><div class="b" style="top:72.91px;font-size:13.8px;line-height:15.41px;left:463.96px;width:40.00px;text-align:center;letter-spacing:0.8px;">20</div><div class="b" style="top:49.51px;font-size:13.8px;line-height:15.41px;left:498.17px;width:40.00px;text-align:center;letter-spacing:0.1px;">400</div><div class="b" style="top:72.91px;font-size:13.8px;line-height:15.41px;left:498.57px;width:40.00px;text-align:center;letter-spacing:0.8px;">24</div><div class="b" style="top:49.51px;font-size:13.8px;line-height:15.41px;left:532.79px;width:40.00px;text-align:center;letter-spacing:0.1px;">600</div><div class="b" style="top:72.91px;font-size:13.8px;line-height:15.41px;left:533.19px;width:40.00px;text-align:center;letter-spacing:0.8px;">36</div><div class="b" style="top:49.51px;font-size:13.8px;line-height:15.41px;left:567.41px;width:40.00px;text-align:center;letter-spacing:0.1px;">700</div><div class="b" style="top:72.91px;font-size:13.8px;line-height:15.41px;left:567.81px;width:40.00px;text-align:center;letter-spacing:0.8px;">42</div><div class="b" style="top:49.51px;font-size:13.8px;line-height:15.41px;left:602.02px;width:40.00px;text-align:center;letter-spacing:0.1px;">900</div><div class="b" style="top:72.91px;font-size:13.8px;line-height:15.41px;left:602.42px;width:40.00px;text-align:center;letter-spacing:0.8px;">54</div><div class="b" style="top:49.51px;font-size:13.8px;line-height:15.41px;left:636.64px;width:40.00px;text-align:center;letter-spacing:0.1px;">1200</div><div class="b" style="top:72.91px;font-size:13.8px;line-height:15.41px;left:637.04px;width:40.00px;text-align:center;letter-spacing:0.8px;">72</div><div class="b" style="top:49.51px;font-size:13.8px;line-height:15.41px;left:671.26px;width:40.00px;text-align:center;letter-spacing:0.1px;">1900</div><div class="b" style="top:72.91px;font-size:13.8px;line-height:15.41px;left:671.66px;width:40.00px;text-align:center;letter-spacing:0.8px;">114</div><div class="b" style="top:49.51px;font-size:13.8px;line-height:15.41px;left:705.88px;width:40.00px;text-align:center;letter-spacing:0.1px;">2100</div><div class="b" style="top:72.91px;font-size:13.8px;line-height:15.41px;left:706.27px;width:40.00px;text-align:center;letter-spacing:0.8px;">126</div><div class="b" style="top:49.51px;font-size:13.8px;line-height:15.41px;left:740.49px;width:40.00px;text-align:center;letter-spacing:0.1px;">2200</div><div class="b" style="top:72.91px;font-size:13.8px;line-height:15.41px;left:740.89px;width:40.00px;text-align:center;letter-spacing:0.8px;">132</div><div class="b" style="top:49.51px;font-size:13.8px;line-height:15.41px;left:775.11px;width:40.00px;text-align:center;letter-spacing:0.1px;">2300</div><div class="b" style="top:72.91px;font-size:13.8px;line-height:15.41px;left:775.51px;width:40.00px;text-align:center;letter-spacing:0.8px;">138</div><div class="b" style="top:49.51px;font-size:13.8px;line-height:15.41px;left:809.72px;width:40.00px;text-align:center;letter-spacing:0.1px;">2500</div><div class="b" style="top:72.91px;font-size:13.8px;line-height:15.41px;left:810.12px;width:40.00px;text-align:center;letter-spacing:0.8px;">150</div><div class="b" style="top:49.51px;font-size:13.8px;line-height:15.41px;left:844.34px;width:40.00px;text-align:center;letter-spacing:0.1px;">3400</div><div class="b" style="top:72.91px;font-size:13.8px;line-height:15.41px;left:844.74px;width:40.00px;text-align:center;letter-spacing:0.8px;">204</div><div class="b" style="top:49.51px;font-size:13.8px;line-height:15.41px;left:878.96px;width:40.00px;text-align:center;letter-spacing:0.1px;">3600</div><div class="b" style="top:72.91px;font-size:13.8px;line-height:15.41px;left:879.36px;width:40.00px;text-align:center;letter-spacing:0.8px;">216</div><div class="b" style="top:49.51px;font-size:13.8px;line-height:15.41px;left:913.58px;width:40.00px;text-align:center;letter-spacing:0.1px;">3800</div><div class="b" style="top:72.91px;font-size:13.8px;line-height:15.41px;left:913.98px;width:40.00px;text-align:center;letter-spacing:0.8px;">228</div><div class="b" style="top:49.51px;font-size:13.8px;line-height:15.41px;left:948.19px;width:40.00px;text-align:center;letter-spacing:0.1px;">4000</div><div class="b" style="top:72.91px;font-size:13.8px;line-height:15.41px;left:948.59px;width:40.00px;text-align:center;letter-spacing:0.8px;">240</div><div class="b" style="top:110.00px;font-size:13.8px;line-height:15.00px;left:33.60px;letter-spacing:0.37px;-webkit-text-stroke-width:0;">PZ 32-160/11</div><div style="top:109.00px;font-size:14px;line-height:16.00px;left:158.75px;width:70.00px;text-align:center;letter-spacing:-0.45px;">50x32</div><div style="top:109.00px;font-size:14px;line-height:16.00px;left:231.65px;width:40.00px;text-align:center;letter-spacing:-0.45px;">1.1</div><div style="top:109.00px;font-size:14px;line-height:16.00px;left:273.60px;width:40.00px;text-align:center;letter-spacing:-0.45px;">1.5</div><div style="top:109.00px;font-size:14px;line-height:16.00px;left:313.50px;width:50.00px;text-align:center;letter-spacing:-0.45px;">22.5</div><div style="top:109.00px;font-size:14px;line-height:16.00px;left:354.71px;width:50.00px;text-align:center;letter-spacing:-0.45px;">19.9</div><div style="top:109.00px;font-size:14px;line-height:16.00px;left:389.32px;width:50.00px;text-align:center;letter-spacing:-0.45px;">18.4</div><div style="top:109.00px;font-size:14px;line-height:16.00px;left:423.94px;width:50.00px;text-align:center;letter-spacing:-0.45px;">14.1</div><div style="top:109.00px;font-size:14px;line-height:16.00px;left:458.56px;width:50.00px;text-align:center;letter-spacing:-0.45px;">12</div><div class="b" style="top:131.00px;font-size:13.8px;line-height:15.00px;left:33.60px;letter-spacing:0.37px;-webkit-text-stroke-width:0;">PZ 32-160/15</div><div style="top:130.00px;font-size:14px;line-height:16.00px;left:158.75px;width:70.00px;text-align:center;letter-spacing:-0.45px;">50x32</div><div style="top:130.00px;font-size:14px;line-height:16.00px;left:231.65px;width:40.00px;text-align:center;letter-spacing:-0.45px;">1.5</div><div style="top:130.00px;font-size:14px;line-height:16.00px;left:273.60px;width:40.00px;text-align:center;letter-spacing:-0.45px;">2</div><div style="top:130.00px;font-size:14px;line-height:16.00px;left:313.50px;width:50.00px;text-align:center;letter-spacing:-0.45px;">29.5</div><div style="top:130.00px;font-size:14px;line-height:16.00px;left:354.71px;width:50.00px;text-align:center;letter-spacing:-0.45px;">26.5</div><div style="top:130.00px;font-size:14px;line-height:16.00px;left:389.32px;width:50.00px;text-align:center;letter-spacing:-0.45px;">24.5</div><div style="top:130.00px;font-size:14px;line-height:16.00px;left:423.94px;width:50.00px;text-align:center;letter-spacing:-0.45px;">19.2</div><div style="top:130.00px;font-size:14px;line-height:16.00px;left:458.56px;width:50.00px;text-align:center;letter-spacing:-0.45px;">17</div><div class="b" style="top:151.00px;font-size:13.8px;line-height:15.00px;left:33.60px;letter-spacing:0.37px;-webkit-text-stroke-width:0;">PZ 32-160/22</div><div style="top:150.00px;font-size:14px;line-height:16.00px;left:158.75px;width:70.00px;text-align:center;letter-spacing:-0.45px;">50x32</div><div style="top:150.00px;font-size:14px;line-height:16.00px;left:231.65px;width:40.00px;text-align:center;letter-spacing:-0.45px;">2.2</div><div style="top:150.00px;font-size:14px;line-height:16.00px;left:273.60px;width:40.00px;text-align:center;letter-spacing:-0.45px;">3</div><div style="top:150.00px;font-size:14px;line-height:16.00px;left:313.50px;width:50.00px;text-align:center;letter-spacing:-0.45px;">37</div><div style="top:150.00px;font-size:14px;line-height:16.00px;left:354.71px;width:50.00px;text-align:center;letter-spacing:-0.45px;">34</div><div style="top:150.00px;font-size:14px;line-height:16.00px;left:389.32px;width:50.00px;text-align:center;letter-spacing:-0.45px;">32</div><div style="top:150.00px;font-size:14px;line-height:16.00px;left:423.94px;width:50.00px;text-align:center;letter-spacing:-0.45px;">27</div><div style="top:150.00px;font-size:14px;line-height:16.00px;left:458.56px;width:50.00px;text-align:center;letter-spacing:-0.45px;">25</div><div class="b" style="top:172.00px;font-size:13.8px;line-height:15.00px;left:33.60px;letter-spacing:0.37px;-webkit-text-stroke-width:0;">PZ 32-200/30</div><div style="top:171.00px;font-size:14px;line-height:16.00px;left:158.75px;width:70.00px;text-align:center;letter-spacing:-0.45px;">50x32</div><div style="top:171.00px;font-size:14px;line-height:16.00px;left:231.65px;width:40.00px;text-align:center;letter-spacing:-0.45px;">3</div><div style="top:171.00px;font-size:14px;line-height:16.00px;left:273.60px;width:40.00px;text-align:center;letter-spacing:-0.45px;">4</div><div style="top:171.00px;font-size:14px;line-height:16.00px;left:313.50px;width:50.00px;text-align:center;letter-spacing:-0.45px;">44</div><div style="top:171.00px;font-size:14px;line-height:16.00px;left:354.71px;width:50.00px;text-align:center;letter-spacing:-0.45px;">40</div><div style="top:171.00px;font-size:14px;line-height:16.00px;left:389.32px;width:50.00px;text-align:center;letter-spacing:-0.45px;">37.5</div><div style="top:171.00px;font-size:14px;line-height:16.00px;left:423.94px;width:50.00px;text-align:center;letter-spacing:-0.45px;">31</div><div style="top:171.00px;font-size:14px;line-height:16.00px;left:458.56px;width:50.00px;text-align:center;letter-spacing:-0.45px;">28</div><div class="b" style="top:193.00px;font-size:13.8px;line-height:15.00px;left:33.60px;letter-spacing:0.37px;-webkit-text-stroke-width:0;">PZ 32-200/40</div><div style="top:192.00px;font-size:14px;line-height:16.00px;left:158.75px;width:70.00px;text-align:center;letter-spacing:-0.45px;">50x32</div><div style="top:192.00px;font-size:14px;line-height:16.00px;left:231.65px;width:40.00px;text-align:center;letter-spacing:-0.45px;">4</div><div style="top:192.00px;font-size:14px;line-height:16.00px;left:273.60px;width:40.00px;text-align:center;letter-spacing:-0.45px;">5.5</div><div style="top:192.00px;font-size:14px;line-height:16.00px;left:313.50px;width:50.00px;text-align:center;letter-spacing:-0.45px;">55</div><div style="top:192.00px;font-size:14px;line-height:16.00px;left:354.71px;width:50.00px;text-align:center;letter-spacing:-0.45px;">52</div><div style="top:192.00px;font-size:14px;line-height:16.00px;left:389.32px;width:50.00px;text-align:center;letter-spacing:-0.45px;">49.5</div><div style="top:192.00px;font-size:14px;line-height:16.00px;left:423.94px;width:50.00px;text-align:center;letter-spacing:-0.45px;">43.5</div><div style="top:192.00px;font-size:14px;line-height:16.00px;left:458.56px;width:50.00px;text-align:center;letter-spacing:-0.45px;">40.5</div><div style="top:192.00px;font-size:14px;line-height:16.00px;left:493.17px;width:50.00px;text-align:center;letter-spacing:-0.45px;">37</div><div class="b" style="top:213.00px;font-size:13.8px;line-height:15.00px;left:33.60px;letter-spacing:0.37px;-webkit-text-stroke-width:0;">PZ 32-200/55</div><div style="top:212.00px;font-size:14px;line-height:16.00px;left:158.75px;width:70.00px;text-align:center;letter-spacing:-0.45px;">50x32</div><div style="top:212.00px;font-size:14px;line-height:16.00px;left:231.65px;width:40.00px;text-align:center;letter-spacing:-0.45px;">5.5</div><div style="top:212.00px;font-size:14px;line-height:16.00px;left:273.60px;width:40.00px;text-align:center;letter-spacing:-0.45px;">7.5</div><div style="top:212.00px;font-size:14px;line-height:16.00px;left:313.50px;width:50.00px;text-align:center;letter-spacing:-0.45px;">70.5</div><div style="top:212.00px;font-size:14px;line-height:16.00px;left:354.71px;width:50.00px;text-align:center;letter-spacing:-0.45px;">67.5</div><div style="top:212.00px;font-size:14px;line-height:16.00px;left:389.32px;width:50.00px;text-align:center;letter-spacing:-0.45px;">65</div><div style="top:212.00px;font-size:14px;line-height:16.00px;left:423.94px;width:50.00px;text-align:center;letter-spacing:-0.45px;">58.5</div><div style="top:212.00px;font-size:14px;line-height:16.00px;left:458.56px;width:50.00px;text-align:center;letter-spacing:-0.45px;">55</div><div style="top:212.00px;font-size:14px;line-height:16.00px;left:493.17px;width:50.00px;text-align:center;letter-spacing:-0.45px;">51</div><div class="b" style="top:234.00px;font-size:13.8px;line-height:15.00px;left:33.60px;letter-spacing:0.37px;-webkit-text-stroke-width:0;">PZ 40-125/15</div><div style="top:233.00px;font-size:14px;line-height:16.00px;left:158.75px;width:70.00px;text-align:center;letter-spacing:-0.45px;">65x40</div><div style="top:233.00px;font-size:14px;line-height:16.00px;left:231.65px;width:40.00px;text-align:center;letter-spacing:-0.45px;">1.5</div><div style="top:233.00px;font-size:14px;line-height:16.00px;left:273.60px;width:40.00px;text-align:center;letter-spacing:-0.45px;">2</div><div style="top:233.00px;font-size:14px;line-height:16.00px;left:313.50px;width:50.00px;text-align:center;letter-spacing:-0.45px;">20</div><div style="top:233.00px;font-size:14px;line-height:16.00px;left:389.32px;width:50.00px;text-align:center;letter-spacing:-0.45px;">19</div><div style="top:233.00px;font-size:14px;line-height:16.00px;left:423.94px;width:50.00px;text-align:center;letter-spacing:-0.45px;">17.6</div><div style="top:233.00px;font-size:14px;line-height:16.00px;left:458.56px;width:50.00px;text-align:center;letter-spacing:-0.45px;">17</div><div style="top:233.00px;font-size:14px;line-height:16.00px;left:493.17px;width:50.00px;text-align:center;letter-spacing:-0.45px;">15.7</div><div style="top:233.00px;font-size:14px;line-height:16.00px;left:527.79px;width:50.00px;text-align:center;letter-spacing:-0.45px;">10.3</div><div style="top:233.00px;font-size:14px;line-height:16.00px;left:562.41px;width:50.00px;text-align:center;letter-spacing:-0.45px;">7</div><div class="b" style="top:255.00px;font-size:13.8px;line-height:15.00px;left:33.60px;letter-spacing:0.37px;-webkit-text-stroke-width:0;">PZ 40-125/22</div><div style="top:254.00px;font-size:14px;line-height:16.00px;left:158.75px;width:70.00px;text-align:center;letter-spacing:-0.45px;">65x40</div><div style="top:254.00px;font-size:14px;line-height:16.00px;left:231.65px;width:40.00px;text-align:center;letter-spacing:-0.45px;">2.2</div><div style="top:254.00px;font-size:14px;line-height:16.00px;left:273.60px;width:40.00px;text-align:center;letter-spacing:-0.45px;">3</div><div style="top:254.00px;font-size:14px;line-height:16.00px;left:313.50px;width:50.00px;text-align:center;letter-spacing:-0.45px;">26.5</div><div style="top:254.00px;font-size:14px;line-height:16.00px;left:389.32px;width:50.00px;text-align:center;letter-spacing:-0.45px;">25.5</div><div style="top:254.00px;font-size:14px;line-height:16.00px;left:423.94px;width:50.00px;text-align:center;letter-spacing:-0.45px;">24</div><div style="top:254.00px;font-size:14px;line-height:16.00px;left:458.56px;width:50.00px;text-align:center;letter-spacing:-0.45px;">23.5</div><div style="top:254.00px;font-size:14px;line-height:16.00px;left:493.17px;width:50.00px;text-align:center;letter-spacing:-0.45px;">22</div><div style="top:254.00px;font-size:14px;line-height:16.00px;left:527.79px;width:50.00px;text-align:center;letter-spacing:-0.45px;">16.4</div><div style="top:254.00px;font-size:14px;line-height:16.00px;left:562.41px;width:50.00px;text-align:center;letter-spacing:-0.45px;">13</div><div class="b" style="top:275.00px;font-size:13.8px;line-height:15.00px;left:33.60px;letter-spacing:0.37px;-webkit-text-stroke-width:0;">PZ 40-160/30</div><div style="top:274.00px;font-size:14px;line-height:16.00px;left:158.75px;width:70.00px;text-align:center;letter-spacing:-0.45px;">65x40</div><div style="top:274.00px;font-size:14px;line-height:16.00px;left:231.65px;width:40.00px;text-align:center;letter-spacing:-0.45px;">3</div><div style="top:274.00px;font-size:14px;line-height:16.00px;left:273.60px;width:40.00px;text-align:center;letter-spacing:-0.45px;">4</div><div style="top:274.00px;font-size:14px;line-height:16.00px;left:313.50px;width:50.00px;text-align:center;letter-spacing:-0.45px;">31</div><div style="top:274.00px;font-size:14px;line-height:16.00px;left:389.32px;width:50.00px;text-align:center;letter-spacing:-0.45px;">29.5</div><div style="top:274.00px;font-size:14px;line-height:16.00px;left:423.94px;width:50.00px;text-align:center;letter-spacing:-0.45px;">27.5</div><div style="top:274.00px;font-size:14px;line-height:16.00px;left:458.56px;width:50.00px;text-align:center;letter-spacing:-0.45px;">27</div><div style="top:274.00px;font-size:14px;line-height:16.00px;left:493.17px;width:50.00px;text-align:center;letter-spacing:-0.45px;">25.5</div><div style="top:274.00px;font-size:14px;line-height:16.00px;left:527.79px;width:50.00px;text-align:center;letter-spacing:-0.45px;">20</div><div style="top:274.00px;font-size:14px;line-height:16.00px;left:562.41px;width:50.00px;text-align:center;letter-spacing:-0.45px;">17</div><div class="b" style="top:296.00px;font-size:13.8px;line-height:15.00px;left:33.60px;letter-spacing:0.37px;-webkit-text-stroke-width:0;">PZ 40-160/40</div><div style="top:295.00px;font-size:14px;line-height:16.00px;left:158.75px;width:70.00px;text-align:center;letter-spacing:-0.45px;">65x40</div><div style="top:295.00px;font-size:14px;line-height:16.00px;left:231.65px;width:40.00px;text-align:center;letter-spacing:-0.45px;">4</div><div style="top:295.00px;font-size:14px;line-height:16.00px;left:273.60px;width:40.00px;text-align:center;letter-spacing:-0.45px;">5.5</div><div style="top:295.00px;font-size:14px;line-height:16.00px;left:313.50px;width:50.00px;text-align:center;letter-spacing:-0.45px;">40</div><div style="top:295.00px;font-size:14px;line-height:16.00px;left:389.32px;width:50.00px;text-align:center;letter-spacing:-0.45px;">38.5</div><div style="top:295.00px;font-size:14px;line-height:16.00px;left:423.94px;width:50.00px;text-align:center;letter-spacing:-0.45px;">37</div><div style="top:295.00px;font-size:14px;line-height:16.00px;left:458.56px;width:50.00px;text-align:center;letter-spacing:-0.45px;">36</div><div style="top:295.00px;font-size:14px;line-height:16.00px;left:493.17px;width:50.00px;text-align:center;letter-spacing:-0.45px;">34.5</div><div style="top:295.00px;font-size:14px;line-height:16.00px;left:527.79px;width:50.00px;text-align:center;letter-spacing:-0.45px;">29</div><div style="top:295.00px;font-size:14px;line-height:16.00px;left:562.41px;width:50.00px;text-align:center;letter-spacing:-0.45px;">25.5</div><div class="b" style="top:317.00px;font-size:13.8px;line-height:15.00px;left:33.60px;letter-spacing:0.37px;-webkit-text-stroke-width:0;">PZ 40-200/55</div><div style="top:316.00px;font-size:14px;line-height:16.00px;left:158.75px;width:70.00px;text-align:center;letter-spacing:-0.45px;">65x40</div><div style="top:316.00px;font-size:14px;line-height:16.00px;left:231.65px;width:40.00px;text-align:center;letter-spacing:-0.45px;">5.5</div><div style="top:316.00px;font-size:14px;line-height:16.00px;left:273.60px;width:40.00px;text-align:center;letter-spacing:-0.45px;">7.5</div><div style="top:316.00px;font-size:14px;line-height:16.00px;left:313.50px;width:50.00px;text-align:center;letter-spacing:-0.45px;">47</div><div style="top:316.00px;font-size:14px;line-height:16.00px;left:389.32px;width:50.00px;text-align:center;letter-spacing:-0.45px;">45.5</div><div style="top:316.00px;font-size:14px;line-height:16.00px;left:423.94px;width:50.00px;text-align:center;letter-spacing:-0.45px;">44</div><div style="top:316.00px;font-size:14px;line-height:16.00px;left:458.56px;width:50.00px;text-align:center;letter-spacing:-0.45px;">43</div><div style="top:316.00px;font-size:14px;line-height:16.00px;left:493.17px;width:50.00px;text-align:center;letter-spacing:-0.45px;">41</div><div style="top:316.00px;font-size:14px;line-height:16.00px;left:527.79px;width:50.00px;text-align:center;letter-spacing:-0.45px;">35</div><div style="top:316.00px;font-size:14px;line-height:16.00px;left:562.41px;width:50.00px;text-align:center;letter-spacing:-0.45px;">31</div><div class="b" style="top:337.00px;font-size:13.8px;line-height:15.00px;left:33.60px;letter-spacing:0.37px;-webkit-text-stroke-width:0;">PZ 40-200/75</div><div style="top:336.00px;font-size:14px;line-height:16.00px;left:158.75px;width:70.00px;text-align:center;letter-spacing:-0.45px;">65x40</div><div style="top:336.00px;font-size:14px;line-height:16.00px;left:231.65px;width:40.00px;text-align:center;letter-spacing:-0.45px;">7.5</div><div style="top:336.00px;font-size:14px;line-height:16.00px;left:273.60px;width:40.00px;text-align:center;letter-spacing:-0.45px;">10</div><div style="top:336.00px;font-size:14px;line-height:16.00px;left:313.50px;width:50.00px;text-align:center;letter-spacing:-0.45px;">58</div><div style="top:336.00px;font-size:14px;line-height:16.00px;left:389.32px;width:50.00px;text-align:center;letter-spacing:-0.45px;">57</div><div style="top:336.00px;font-size:14px;line-height:16.00px;left:423.94px;width:50.00px;text-align:center;letter-spacing:-0.45px;">55.5</div><div style="top:336.00px;font-size:14px;line-height:16.00px;left:458.56px;width:50.00px;text-align:center;letter-spacing:-0.45px;">55</div><div style="top:336.00px;font-size:14px;line-height:16.00px;left:493.17px;width:50.00px;text-align:center;letter-spacing:-0.45px;">53.5</div><div style="top:336.00px;font-size:14px;line-height:16.00px;left:527.79px;width:50.00px;text-align:center;letter-spacing:-0.45px;">47.5</div><div style="top:336.00px;font-size:14px;line-height:16.00px;left:562.41px;width:50.00px;text-align:center;letter-spacing:-0.45px;">44</div><div class="b" style="top:358.00px;font-size:13.8px;line-height:15.00px;left:33.60px;letter-spacing:0.37px;-webkit-text-stroke-width:0;">PZ 40-200/110</div><div style="top:357.00px;font-size:14px;line-height:16.00px;left:158.75px;width:70.00px;text-align:center;letter-spacing:-0.45px;">65x40</div><div style="top:357.00px;font-size:14px;line-height:16.00px;left:231.65px;width:40.00px;text-align:center;letter-spacing:-0.45px;">11</div><div style="top:357.00px;font-size:14px;line-height:16.00px;left:273.60px;width:40.00px;text-align:center;letter-spacing:-0.45px;">15</div><div style="top:357.00px;font-size:14px;line-height:16.00px;left:313.50px;width:50.00px;text-align:center;letter-spacing:-0.45px;">72</div><div style="top:357.00px;font-size:14px;line-height:16.00px;left:389.32px;width:50.00px;text-align:center;letter-spacing:-0.45px;">71</div><div style="top:357.00px;font-size:14px;line-height:16.00px;left:423.94px;width:50.00px;text-align:center;letter-spacing:-0.45px;">70</div><div style="top:357.00px;font-size:14px;line-height:16.00px;left:458.56px;width:50.00px;text-align:center;letter-spacing:-0.45px;">70</div><div style="top:357.00px;font-size:14px;line-height:16.00px;left:493.17px;width:50.00px;text-align:center;letter-spacing:-0.45px;">68.5</div><div style="top:357.00px;font-size:14px;line-height:16.00px;left:527.79px;width:50.00px;text-align:center;letter-spacing:-0.45px;">63</div><div style="top:357.00px;font-size:14px;line-height:16.00px;left:562.41px;width:50.00px;text-align:center;letter-spacing:-0.45px;">59</div><div class="b" style="top:379.00px;font-size:13.8px;line-height:15.00px;left:33.60px;letter-spacing:0.37px;-webkit-text-stroke-width:0;">PZ 50-125/22</div><div style="top:378.00px;font-size:14px;line-height:16.00px;left:158.75px;width:70.00px;text-align:center;letter-spacing:-0.45px;">65x50</div><div style="top:378.00px;font-size:14px;line-height:16.00px;left:231.65px;width:40.00px;text-align:center;letter-spacing:-0.45px;">2.2</div><div style="top:378.00px;font-size:14px;line-height:16.00px;left:273.60px;width:40.00px;text-align:center;letter-spacing:-0.45px;">3</div><div style="top:378.00px;font-size:14px;line-height:16.00px;left:313.50px;width:50.00px;text-align:center;letter-spacing:-0.45px;">19</div><div style="top:378.00px;font-size:14px;line-height:16.00px;left:493.17px;width:50.00px;text-align:center;letter-spacing:-0.45px;">17.5</div><div style="top:378.00px;font-size:14px;line-height:16.00px;left:527.79px;width:50.00px;text-align:center;letter-spacing:-0.45px;">14.9</div><div style="top:378.00px;font-size:14px;line-height:16.00px;left:562.41px;width:50.00px;text-align:center;letter-spacing:-0.45px;">13.4</div><div style="top:378.00px;font-size:14px;line-height:16.00px;left:597.02px;width:50.00px;text-align:center;letter-spacing:-0.45px;">10.7</div><div class="b" style="top:400.00px;font-size:13.8px;line-height:15.00px;left:33.60px;letter-spacing:0.37px;-webkit-text-stroke-width:0;">PZ 50-125/30</div><div style="top:399.00px;font-size:14px;line-height:16.00px;left:158.75px;width:70.00px;text-align:center;letter-spacing:-0.45px;">65x50</div><div style="top:399.00px;font-size:14px;line-height:16.00px;left:231.65px;width:40.00px;text-align:center;letter-spacing:-0.45px;">3</div><div style="top:399.00px;font-size:14px;line-height:16.00px;left:273.60px;width:40.00px;text-align:center;letter-spacing:-0.45px;">4</div><div style="top:399.00px;font-size:14px;line-height:16.00px;left:313.50px;width:50.00px;text-align:center;letter-spacing:-0.45px;">22</div><div style="top:399.00px;font-size:14px;line-height:16.00px;left:493.17px;width:50.00px;text-align:center;letter-spacing:-0.45px;">20.5</div><div style="top:399.00px;font-size:14px;line-height:16.00px;left:527.79px;width:50.00px;text-align:center;letter-spacing:-0.45px;">18.4</div><div style="top:399.00px;font-size:14px;line-height:16.00px;left:562.41px;width:50.00px;text-align:center;letter-spacing:-0.45px;">17</div><div style="top:399.00px;font-size:14px;line-height:16.00px;left:597.02px;width:50.00px;text-align:center;letter-spacing:-0.45px;">14.4</div><div style="top:399.00px;font-size:14px;line-height:16.00px;left:631.64px;width:50.00px;text-align:center;letter-spacing:-0.45px;">8</div><div class="b" style="top:420.00px;font-size:13.8px;line-height:15.00px;left:33.60px;letter-spacing:0.37px;-webkit-text-stroke-width:0;">PZ 50-125/40</div><div style="top:419.00px;font-size:14px;line-height:16.00px;left:158.75px;width:70.00px;text-align:center;letter-spacing:-0.45px;">65x50</div><div style="top:419.00px;font-size:14px;line-height:16.00px;left:231.65px;width:40.00px;text-align:center;letter-spacing:-0.45px;">4</div><div style="top:419.00px;font-size:14px;line-height:16.00px;left:273.60px;width:40.00px;text-align:center;letter-spacing:-0.45px;">5.5</div><div style="top:419.00px;font-size:14px;line-height:16.00px;left:313.50px;width:50.00px;text-align:center;letter-spacing:-0.45px;">26.5</div><div style="top:419.00px;font-size:14px;line-height:16.00px;left:493.17px;width:50.00px;text-align:center;letter-spacing:-0.45px;">26</div><div style="top:419.00px;font-size:14px;line-height:16.00px;left:527.79px;width:50.00px;text-align:center;letter-spacing:-0.45px;">24</div><div style="top:419.00px;font-size:14px;line-height:16.00px;left:562.41px;width:50.00px;text-align:center;letter-spacing:-0.45px;">22.5</div><div style="top:419.00px;font-size:14px;line-height:16.00px;left:597.02px;width:50.00px;text-align:center;letter-spacing:-0.45px;">20.5</div><div style="top:419.00px;font-size:14px;line-height:16.00px;left:631.64px;width:50.00px;text-align:center;letter-spacing:-0.45px;">14</div><div class="b" style="top:441.00px;font-size:13.8px;line-height:15.00px;left:33.60px;letter-spacing:0.37px;-webkit-text-stroke-width:0;">PZ 50-160/55</div><div style="top:440.00px;font-size:14px;line-height:16.00px;left:158.75px;width:70.00px;text-align:center;letter-spacing:-0.45px;">65x50</div><div style="top:440.00px;font-size:14px;line-height:16.00px;left:231.65px;width:40.00px;text-align:center;letter-spacing:-0.45px;">5.5</div><div style="top:440.00px;font-size:14px;line-height:16.00px;left:273.60px;width:40.00px;text-align:center;letter-spacing:-0.45px;">7.5</div><div style="top:440.00px;font-size:14px;line-height:16.00px;left:313.50px;width:50.00px;text-align:center;letter-spacing:-0.45px;">33</div><div style="top:440.00px;font-size:14px;line-height:16.00px;left:493.17px;width:50.00px;text-align:center;letter-spacing:-0.45px;">31</div><div style="top:440.00px;font-size:14px;line-height:16.00px;left:527.79px;width:50.00px;text-align:center;letter-spacing:-0.45px;">28.5</div><div style="top:440.00px;font-size:14px;line-height:16.00px;left:562.41px;width:50.00px;text-align:center;letter-spacing:-0.45px;">27</div><div style="top:440.00px;font-size:14px;line-height:16.00px;left:597.02px;width:50.00px;text-align:center;letter-spacing:-0.45px;">24.5</div><div style="top:440.00px;font-size:14px;line-height:16.00px;left:631.64px;width:50.00px;text-align:center;letter-spacing:-0.45px;">18</div><div class="b" style="top:462.00px;font-size:13.8px;line-height:15.00px;left:33.60px;letter-spacing:0.37px;-webkit-text-stroke-width:0;">PZ 50-160/75</div><div style="top:461.00px;font-size:14px;line-height:16.00px;left:158.75px;width:70.00px;text-align:center;letter-spacing:-0.45px;">65x50</div><div style="top:461.00px;font-size:14px;line-height:16.00px;left:231.65px;width:40.00px;text-align:center;letter-spacing:-0.45px;">7.5</div><div style="top:461.00px;font-size:14px;line-height:16.00px;left:273.60px;width:40.00px;text-align:center;letter-spacing:-0.45px;">10</div><div style="top:461.00px;font-size:14px;line-height:16.00px;left:313.50px;width:50.00px;text-align:center;letter-spacing:-0.45px;">40</div><div style="top:461.00px;font-size:14px;line-height:16.00px;left:493.17px;width:50.00px;text-align:center;letter-spacing:-0.45px;">38.5</div><div style="top:461.00px;font-size:14px;line-height:16.00px;left:527.79px;width:50.00px;text-align:center;letter-spacing:-0.45px;">36</div><div style="top:461.00px;font-size:14px;line-height:16.00px;left:562.41px;width:50.00px;text-align:center;letter-spacing:-0.45px;">35</div><div style="top:461.00px;font-size:14px;line-height:16.00px;left:597.02px;width:50.00px;text-align:center;letter-spacing:-0.45px;">32.5</div><div style="top:461.00px;font-size:14px;line-height:16.00px;left:631.64px;width:50.00px;text-align:center;letter-spacing:-0.45px;">26</div><div class="b" style="top:482.00px;font-size:13.8px;line-height:15.00px;left:33.60px;letter-spacing:0.37px;-webkit-text-stroke-width:0;">PZ 50-200/92</div><div style="top:481.00px;font-size:14px;line-height:16.00px;left:158.75px;width:70.00px;text-align:center;letter-spacing:-0.45px;">65x50</div><div style="top:481.00px;font-size:14px;line-height:16.00px;left:231.65px;width:40.00px;text-align:center;letter-spacing:-0.45px;">9.2</div><div style="top:481.00px;font-size:14px;line-height:16.00px;left:273.60px;width:40.00px;text-align:center;letter-spacing:-0.45px;">12.5</div><div style="top:481.00px;font-size:14px;line-height:16.00px;left:313.50px;width:50.00px;text-align:center;letter-spacing:-0.45px;">53</div><div style="top:481.00px;font-size:14px;line-height:16.00px;left:527.79px;width:50.00px;text-align:center;letter-spacing:-0.45px;">49</div><div style="top:481.00px;font-size:14px;line-height:16.00px;left:562.41px;width:50.00px;text-align:center;letter-spacing:-0.45px;">47.5</div><div style="top:481.00px;font-size:14px;line-height:16.00px;left:597.02px;width:50.00px;text-align:center;letter-spacing:-0.45px;">44.5</div><div style="top:481.00px;font-size:14px;line-height:16.00px;left:631.64px;width:50.00px;text-align:center;letter-spacing:-0.45px;">34</div><div class="b" style="top:503.00px;font-size:13.8px;line-height:15.00px;left:33.60px;letter-spacing:0.37px;-webkit-text-stroke-width:0;">PZ 50-200/110</div><div style="top:502.00px;font-size:14px;line-height:16.00px;left:158.75px;width:70.00px;text-align:center;letter-spacing:-0.45px;">65x50</div><div style="top:502.00px;font-size:14px;line-height:16.00px;left:231.65px;width:40.00px;text-align:center;letter-spacing:-0.45px;">11</div><div style="top:502.00px;font-size:14px;line-height:16.00px;left:273.60px;width:40.00px;text-align:center;letter-spacing:-0.45px;">15</div><div style="top:502.00px;font-size:14px;line-height:16.00px;left:313.50px;width:50.00px;text-align:center;letter-spacing:-0.45px;">59</div><div style="top:502.00px;font-size:14px;line-height:16.00px;left:527.79px;width:50.00px;text-align:center;letter-spacing:-0.45px;">55</div><div style="top:502.00px;font-size:14px;line-height:16.00px;left:562.41px;width:50.00px;text-align:center;letter-spacing:-0.45px;">54</div><div style="top:502.00px;font-size:14px;line-height:16.00px;left:597.02px;width:50.00px;text-align:center;letter-spacing:-0.45px;">51</div><div style="top:502.00px;font-size:14px;line-height:16.00px;left:631.64px;width:50.00px;text-align:center;letter-spacing:-0.45px;">42</div><div class="b" style="top:524.00px;font-size:13.8px;line-height:15.00px;left:33.60px;letter-spacing:0.37px;-webkit-text-stroke-width:0;">PZ 50-200/150</div><div style="top:523.00px;font-size:14px;line-height:16.00px;left:158.75px;width:70.00px;text-align:center;letter-spacing:-0.45px;">65x50</div><div style="top:523.00px;font-size:14px;line-height:16.00px;left:231.65px;width:40.00px;text-align:center;letter-spacing:-0.45px;">15</div><div style="top:523.00px;font-size:14px;line-height:16.00px;left:273.60px;width:40.00px;text-align:center;letter-spacing:-0.45px;">20</div><div style="top:523.00px;font-size:14px;line-height:16.00px;left:313.50px;width:50.00px;text-align:center;letter-spacing:-0.45px;">72</div><div style="top:523.00px;font-size:14px;line-height:16.00px;left:527.79px;width:50.00px;text-align:center;letter-spacing:-0.45px;">69</div><div style="top:523.00px;font-size:14px;line-height:16.00px;left:562.41px;width:50.00px;text-align:center;letter-spacing:-0.45px;">68</div><div style="top:523.00px;font-size:14px;line-height:16.00px;left:597.02px;width:50.00px;text-align:center;letter-spacing:-0.45px;">65</div><div style="top:523.00px;font-size:14px;line-height:16.00px;left:631.64px;width:50.00px;text-align:center;letter-spacing:-0.45px;">57</div><div class="b" style="top:544.00px;font-size:13.8px;line-height:15.00px;left:33.60px;letter-spacing:0.37px;-webkit-text-stroke-width:0;">PZ 65-125/40</div><div style="top:543.00px;font-size:14px;line-height:16.00px;left:158.75px;width:70.00px;text-align:center;letter-spacing:-0.45px;">80x65</div><div style="top:543.00px;font-size:14px;line-height:16.00px;left:231.65px;width:40.00px;text-align:center;letter-spacing:-0.45px;">4</div><div style="top:543.00px;font-size:14px;line-height:16.00px;left:273.60px;width:40.00px;text-align:center;letter-spacing:-0.45px;">5.5</div><div style="top:543.00px;font-size:14px;line-height:16.00px;left:313.50px;width:50.00px;text-align:center;letter-spacing:-0.45px;">22.2</div><div style="top:543.00px;font-size:14px;line-height:16.00px;left:527.79px;width:50.00px;text-align:center;letter-spacing:-0.45px;">19.8</div><div style="top:543.00px;font-size:14px;line-height:16.00px;left:562.41px;width:50.00px;text-align:center;letter-spacing:-0.45px;">19</div><div style="top:543.00px;font-size:14px;line-height:16.00px;left:597.02px;width:50.00px;text-align:center;letter-spacing:-0.45px;">17.3</div><div style="top:543.00px;font-size:14px;line-height:16.00px;left:631.64px;width:50.00px;text-align:center;letter-spacing:-0.45px;">13.5</div><div style="top:543.00px;font-size:14px;line-height:16.00px;left:666.26px;width:50.00px;text-align:center;letter-spacing:-0.45px;">6.3</div><div class="b" style="top:565.00px;font-size:13.8px;line-height:15.00px;left:33.60px;letter-spacing:0.37px;-webkit-text-stroke-width:0;">PZ 65-125/55</div><div style="top:564.00px;font-size:14px;line-height:16.00px;left:158.75px;width:70.00px;text-align:center;letter-spacing:-0.45px;">80x65</div><div style="top:564.00px;font-size:14px;line-height:16.00px;left:231.65px;width:40.00px;text-align:center;letter-spacing:-0.45px;">5.5</div><div style="top:564.00px;font-size:14px;line-height:16.00px;left:273.60px;width:40.00px;text-align:center;letter-spacing:-0.45px;">7.5</div><div style="top:564.00px;font-size:14px;line-height:16.00px;left:313.50px;width:50.00px;text-align:center;letter-spacing:-0.45px;">27</div><div style="top:564.00px;font-size:14px;line-height:16.00px;left:562.41px;width:50.00px;text-align:center;letter-spacing:-0.45px;">24</div><div style="top:564.00px;font-size:14px;line-height:16.00px;left:597.02px;width:50.00px;text-align:center;letter-spacing:-0.45px;">22.2</div><div style="top:564.00px;font-size:14px;line-height:16.00px;left:631.64px;width:50.00px;text-align:center;letter-spacing:-0.45px;">18.5</div><div style="top:564.00px;font-size:14px;line-height:16.00px;left:666.26px;width:50.00px;text-align:center;letter-spacing:-0.45px;">10.8</div><div style="top:564.00px;font-size:14px;line-height:16.00px;left:700.88px;width:50.00px;text-align:center;letter-spacing:-0.45px;">8</div><div class="b" style="top:586.00px;font-size:13.8px;line-height:15.00px;left:33.60px;letter-spacing:0.37px;-webkit-text-stroke-width:0;">PZ 65-125/75</div><div style="top:585.00px;font-size:14px;line-height:16.00px;left:158.75px;width:70.00px;text-align:center;letter-spacing:-0.45px;">80x65</div><div style="top:585.00px;font-size:14px;line-height:16.00px;left:231.65px;width:40.00px;text-align:center;letter-spacing:-0.45px;">7.5</div><div style="top:585.00px;font-size:14px;line-height:16.00px;left:273.60px;width:40.00px;text-align:center;letter-spacing:-0.45px;">10</div><div style="top:585.00px;font-size:14px;line-height:16.00px;left:313.50px;width:50.00px;text-align:center;letter-spacing:-0.45px;">32</div><div style="top:585.00px;font-size:14px;line-height:16.00px;left:562.41px;width:50.00px;text-align:center;letter-spacing:-0.45px;">29.5</div><div style="top:585.00px;font-size:14px;line-height:16.00px;left:597.02px;width:50.00px;text-align:center;letter-spacing:-0.45px;">27.8</div><div style="top:585.00px;font-size:14px;line-height:16.00px;left:631.64px;width:50.00px;text-align:center;letter-spacing:-0.45px;">24</div><div style="top:585.00px;font-size:14px;line-height:16.00px;left:666.26px;width:50.00px;text-align:center;letter-spacing:-0.45px;">16.1</div><div style="top:585.00px;font-size:14px;line-height:16.00px;left:700.88px;width:50.00px;text-align:center;letter-spacing:-0.45px;">13.4</div><div style="top:585.00px;font-size:14px;line-height:16.00px;left:735.49px;width:50.00px;text-align:center;letter-spacing:-0.45px;">12</div><div class="b" style="top:606.00px;font-size:13.8px;line-height:15.00px;left:33.60px;letter-spacing:0.37px;-webkit-text-stroke-width:0;">PZ 65-160/92</div><div style="top:605.00px;font-size:14px;line-height:16.00px;left:158.75px;width:70.00px;text-align:center;letter-spacing:-0.45px;">80x65</div><div style="top:605.00px;font-size:14px;line-height:16.00px;left:231.65px;width:40.00px;text-align:center;letter-spacing:-0.45px;">9.2</div><div style="top:605.00px;font-size:14px;line-height:16.00px;left:273.60px;width:40.00px;text-align:center;letter-spacing:-0.45px;">12.5</div><div style="top:605.00px;font-size:14px;line-height:16.00px;left:313.50px;width:50.00px;text-align:center;letter-spacing:-0.45px;">36.5</div><div style="top:605.00px;font-size:14px;line-height:16.00px;left:562.41px;width:50.00px;text-align:center;letter-spacing:-0.45px;">34.5</div><div style="top:605.00px;font-size:14px;line-height:16.00px;left:597.02px;width:50.00px;text-align:center;letter-spacing:-0.45px;">32.8</div><div style="top:605.00px;font-size:14px;line-height:16.00px;left:631.64px;width:50.00px;text-align:center;letter-spacing:-0.45px;">29</div><div style="top:605.00px;font-size:14px;line-height:16.00px;left:666.26px;width:50.00px;text-align:center;letter-spacing:-0.45px;">21.1</div><div style="top:605.00px;font-size:14px;line-height:16.00px;left:700.88px;width:50.00px;text-align:center;letter-spacing:-0.45px;">18.3</div><div style="top:605.00px;font-size:14px;line-height:16.00px;left:735.49px;width:50.00px;text-align:center;letter-spacing:-0.45px;">16.8</div><div class="b" style="top:627.00px;font-size:13.8px;line-height:15.00px;left:33.60px;letter-spacing:0.37px;-webkit-text-stroke-width:0;">PZ 65-160/110</div><div style="top:626.00px;font-size:14px;line-height:16.00px;left:158.75px;width:70.00px;text-align:center;letter-spacing:-0.45px;">80x65</div><div style="top:626.00px;font-size:14px;line-height:16.00px;left:231.65px;width:40.00px;text-align:center;letter-spacing:-0.45px;">11</div><div style="top:626.00px;font-size:14px;line-height:16.00px;left:273.60px;width:40.00px;text-align:center;letter-spacing:-0.45px;">15</div><div style="top:626.00px;font-size:14px;line-height:16.00px;left:313.50px;width:50.00px;text-align:center;letter-spacing:-0.45px;">40.5</div><div style="top:626.00px;font-size:14px;line-height:16.00px;left:562.41px;width:50.00px;text-align:center;letter-spacing:-0.45px;">38.5</div><div style="top:626.00px;font-size:14px;line-height:16.00px;left:597.02px;width:50.00px;text-align:center;letter-spacing:-0.45px;">37.1</div><div style="top:626.00px;font-size:14px;line-height:16.00px;left:631.64px;width:50.00px;text-align:center;letter-spacing:-0.45px;">33.5</div><div style="top:626.00px;font-size:14px;line-height:16.00px;left:666.26px;width:50.00px;text-align:center;letter-spacing:-0.45px;">25.8</div><div style="top:626.00px;font-size:14px;line-height:16.00px;left:700.88px;width:50.00px;text-align:center;letter-spacing:-0.45px;">23</div><div style="top:626.00px;font-size:14px;line-height:16.00px;left:735.49px;width:50.00px;text-align:center;letter-spacing:-0.45px;">21.5</div><div style="top:626.00px;font-size:14px;line-height:16.00px;left:770.11px;width:50.00px;text-align:center;letter-spacing:-0.45px;">20</div><div class="b" style="top:648.00px;font-size:13.8px;line-height:15.00px;left:33.60px;letter-spacing:0.37px;-webkit-text-stroke-width:0;">PZ 65-200/150</div><div style="top:647.00px;font-size:14px;line-height:16.00px;left:158.75px;width:70.00px;text-align:center;letter-spacing:-0.45px;">80x65</div><div style="top:647.00px;font-size:14px;line-height:16.00px;left:231.65px;width:40.00px;text-align:center;letter-spacing:-0.45px;">15</div><div style="top:647.00px;font-size:14px;line-height:16.00px;left:273.60px;width:40.00px;text-align:center;letter-spacing:-0.45px;">20</div><div style="top:647.00px;font-size:14px;line-height:16.00px;left:313.50px;width:50.00px;text-align:center;letter-spacing:-0.45px;">53.5</div><div style="top:647.00px;font-size:14px;line-height:16.00px;left:562.41px;width:50.00px;text-align:center;letter-spacing:-0.45px;">51</div><div style="top:647.00px;font-size:14px;line-height:16.00px;left:597.02px;width:50.00px;text-align:center;letter-spacing:-0.45px;">49</div><div style="top:647.00px;font-size:14px;line-height:16.00px;left:631.64px;width:50.00px;text-align:center;letter-spacing:-0.45px;">44.5</div><div style="top:647.00px;font-size:14px;line-height:16.00px;left:666.26px;width:50.00px;text-align:center;letter-spacing:-0.45px;">35.3</div><div style="top:647.00px;font-size:14px;line-height:16.00px;left:700.88px;width:50.00px;text-align:center;letter-spacing:-0.45px;">31.8</div><div style="top:647.00px;font-size:14px;line-height:16.00px;left:735.49px;width:50.00px;text-align:center;letter-spacing:-0.45px;">30</div><div class="b" style="top:668.00px;font-size:13.8px;line-height:15.00px;left:33.60px;letter-spacing:0.37px;-webkit-text-stroke-width:0;">PZ 65-200/185</div><div style="top:667.00px;font-size:14px;line-height:16.00px;left:158.75px;width:70.00px;text-align:center;letter-spacing:-0.45px;">80x65</div><div style="top:667.00px;font-size:14px;line-height:16.00px;left:231.65px;width:40.00px;text-align:center;letter-spacing:-0.45px;">18.5</div><div style="top:667.00px;font-size:14px;line-height:16.00px;left:273.60px;width:40.00px;text-align:center;letter-spacing:-0.45px;">25</div><div style="top:667.00px;font-size:14px;line-height:16.00px;left:313.50px;width:50.00px;text-align:center;letter-spacing:-0.45px;">60.5</div><div style="top:667.00px;font-size:14px;line-height:16.00px;left:562.41px;width:50.00px;text-align:center;letter-spacing:-0.45px;">58.5</div><div style="top:667.00px;font-size:14px;line-height:16.00px;left:597.02px;width:50.00px;text-align:center;letter-spacing:-0.45px;">56.5</div><div style="top:667.00px;font-size:14px;line-height:16.00px;left:631.64px;width:50.00px;text-align:center;letter-spacing:-0.45px;">52</div><div style="top:667.00px;font-size:14px;line-height:16.00px;left:666.26px;width:50.00px;text-align:center;letter-spacing:-0.45px;">43</div><div style="top:667.00px;font-size:14px;line-height:16.00px;left:700.88px;width:50.00px;text-align:center;letter-spacing:-0.45px;">39.7</div><div style="top:667.00px;font-size:14px;line-height:16.00px;left:735.49px;width:50.00px;text-align:center;letter-spacing:-0.45px;">38</div><div style="top:667.00px;font-size:14px;line-height:16.00px;left:770.11px;width:50.00px;text-align:center;letter-spacing:-0.45px;">36.3</div><div class="b" style="top:689.00px;font-size:13.8px;line-height:15.00px;left:33.60px;letter-spacing:0.37px;-webkit-text-stroke-width:0;">PZ 65-200/220</div><div style="top:688.00px;font-size:14px;line-height:16.00px;left:158.75px;width:70.00px;text-align:center;letter-spacing:-0.45px;">80x65</div><div style="top:688.00px;font-size:14px;line-height:16.00px;left:231.65px;width:40.00px;text-align:center;letter-spacing:-0.45px;">22</div><div style="top:688.00px;font-size:14px;line-height:16.00px;left:273.60px;width:40.00px;text-align:center;letter-spacing:-0.45px;">30</div><div style="top:688.00px;font-size:14px;line-height:16.00px;left:313.50px;width:50.00px;text-align:center;letter-spacing:-0.45px;">67</div><div style="top:688.00px;font-size:14px;line-height:16.00px;left:562.41px;width:50.00px;text-align:center;letter-spacing:-0.45px;">65.5</div><div style="top:688.00px;font-size:14px;line-height:16.00px;left:597.02px;width:50.00px;text-align:center;letter-spacing:-0.45px;">64</div><div style="top:688.00px;font-size:14px;line-height:16.00px;left:631.64px;width:50.00px;text-align:center;letter-spacing:-0.45px;">60</div><div style="top:688.00px;font-size:14px;line-height:16.00px;left:666.26px;width:50.00px;text-align:center;letter-spacing:-0.45px;">51</div><div style="top:688.00px;font-size:14px;line-height:16.00px;left:700.88px;width:50.00px;text-align:center;letter-spacing:-0.45px;">48</div><div style="top:688.00px;font-size:14px;line-height:16.00px;left:735.49px;width:50.00px;text-align:center;letter-spacing:-0.45px;">46.5</div><div style="top:688.00px;font-size:14px;line-height:16.00px;left:770.11px;width:50.00px;text-align:center;letter-spacing:-0.45px;">45</div><div class="b" style="top:710.00px;font-size:13.8px;line-height:15.00px;left:33.60px;letter-spacing:0.37px;-webkit-text-stroke-width:0;">PZ 80-160/110</div><div style="top:709.00px;font-size:14px;line-height:16.00px;left:158.75px;width:70.00px;text-align:center;letter-spacing:-0.45px;">100x80</div><div style="top:709.00px;font-size:14px;line-height:16.00px;left:231.65px;width:40.00px;text-align:center;letter-spacing:-0.45px;">11</div><div style="top:709.00px;font-size:14px;line-height:16.00px;left:273.60px;width:40.00px;text-align:center;letter-spacing:-0.45px;">15</div><div style="top:709.00px;font-size:14px;line-height:16.00px;left:313.50px;width:50.00px;text-align:center;letter-spacing:-0.45px;">29</div><div style="top:709.00px;font-size:14px;line-height:16.00px;left:631.64px;width:50.00px;text-align:center;letter-spacing:-0.45px;">27.5</div><div style="top:709.00px;font-size:14px;line-height:16.00px;left:666.26px;width:50.00px;text-align:center;letter-spacing:-0.45px;">24.2</div><div style="top:709.00px;font-size:14px;line-height:16.00px;left:700.88px;width:50.00px;text-align:center;letter-spacing:-0.45px;">23</div><div style="top:709.00px;font-size:14px;line-height:16.00px;left:735.49px;width:50.00px;text-align:center;letter-spacing:-0.45px;">22.4</div><div style="top:709.00px;font-size:14px;line-height:16.00px;left:770.11px;width:50.00px;text-align:center;letter-spacing:-0.45px;">21.8</div><div style="top:709.00px;font-size:14px;line-height:16.00px;left:804.72px;width:50.00px;text-align:center;letter-spacing:-0.45px;">20.4</div><div style="top:709.00px;font-size:14px;line-height:16.00px;left:839.34px;width:50.00px;text-align:center;letter-spacing:-0.45px;">12.5</div><div class="b" style="top:730.00px;font-size:13.8px;line-height:15.00px;left:33.60px;letter-spacing:0.37px;-webkit-text-stroke-width:0;">PZ 80-160/150</div><div style="top:729.00px;font-size:14px;line-height:16.00px;left:158.75px;width:70.00px;text-align:center;letter-spacing:-0.45px;">100x80</div><div style="top:729.00px;font-size:14px;line-height:16.00px;left:231.65px;width:40.00px;text-align:center;letter-spacing:-0.45px;">15</div><div style="top:729.00px;font-size:14px;line-height:16.00px;left:273.60px;width:40.00px;text-align:center;letter-spacing:-0.45px;">20</div><div style="top:729.00px;font-size:14px;line-height:16.00px;left:313.50px;width:50.00px;text-align:center;letter-spacing:-0.45px;">35</div><div style="top:729.00px;font-size:14px;line-height:16.00px;left:631.64px;width:50.00px;text-align:center;letter-spacing:-0.45px;">34.5</div><div style="top:729.00px;font-size:14px;line-height:16.00px;left:666.26px;width:50.00px;text-align:center;letter-spacing:-0.45px;">31.5</div><div style="top:729.00px;font-size:14px;line-height:16.00px;left:700.88px;width:50.00px;text-align:center;letter-spacing:-0.45px;">30.5</div><div style="top:729.00px;font-size:14px;line-height:16.00px;left:735.49px;width:50.00px;text-align:center;letter-spacing:-0.45px;">30</div><div style="top:729.00px;font-size:14px;line-height:16.00px;left:770.11px;width:50.00px;text-align:center;letter-spacing:-0.45px;">29.4</div><div style="top:729.00px;font-size:14px;line-height:16.00px;left:804.72px;width:50.00px;text-align:center;letter-spacing:-0.45px;">28.1</div><div style="top:729.00px;font-size:14px;line-height:16.00px;left:839.34px;width:50.00px;text-align:center;letter-spacing:-0.45px;">21</div><div style="top:729.00px;font-size:14px;line-height:16.00px;left:873.96px;width:50.00px;text-align:center;letter-spacing:-0.45px;">19.1</div><div style="top:729.00px;font-size:14px;line-height:16.00px;left:908.58px;width:50.00px;text-align:center;letter-spacing:-0.45px;">17</div><div class="b" style="top:751.00px;font-size:13.8px;line-height:15.00px;left:33.60px;letter-spacing:0.37px;-webkit-text-stroke-width:0;">PZ 80-160/185</div><div style="top:750.00px;font-size:14px;line-height:16.00px;left:158.75px;width:70.00px;text-align:center;letter-spacing:-0.45px;">100x80</div><div style="top:750.00px;font-size:14px;line-height:16.00px;left:231.65px;width:40.00px;text-align:center;letter-spacing:-0.45px;">18.5</div><div style="top:750.00px;font-size:14px;line-height:16.00px;left:273.60px;width:40.00px;text-align:center;letter-spacing:-0.45px;">25</div><div style="top:750.00px;font-size:14px;line-height:16.00px;left:313.50px;width:50.00px;text-align:center;letter-spacing:-0.45px;">40</div><div style="top:750.00px;font-size:14px;line-height:16.00px;left:631.64px;width:50.00px;text-align:center;letter-spacing:-0.45px;">39.5</div><div style="top:750.00px;font-size:14px;line-height:16.00px;left:666.26px;width:50.00px;text-align:center;letter-spacing:-0.45px;">36.7</div><div style="top:750.00px;font-size:14px;line-height:16.00px;left:700.88px;width:50.00px;text-align:center;letter-spacing:-0.45px;">35.7</div><div style="top:750.00px;font-size:14px;line-height:16.00px;left:735.49px;width:50.00px;text-align:center;letter-spacing:-0.45px;">35.2</div><div style="top:750.00px;font-size:14px;line-height:16.00px;left:770.11px;width:50.00px;text-align:center;letter-spacing:-0.45px;">34.7</div><div style="top:750.00px;font-size:14px;line-height:16.00px;left:804.72px;width:50.00px;text-align:center;letter-spacing:-0.45px;">33.5</div><div style="top:750.00px;font-size:14px;line-height:16.00px;left:839.34px;width:50.00px;text-align:center;letter-spacing:-0.45px;">26.4</div><div style="top:750.00px;font-size:14px;line-height:16.00px;left:873.96px;width:50.00px;text-align:center;letter-spacing:-0.45px;">24.4</div><div style="top:750.00px;font-size:14px;line-height:16.00px;left:908.58px;width:50.00px;text-align:center;letter-spacing:-0.45px;">22.3</div><div style="top:750.00px;font-size:14px;line-height:16.00px;left:943.19px;width:50.00px;text-align:center;letter-spacing:-0.45px;">20</div><div class="b" style="top:772.00px;font-size:13.8px;line-height:15.00px;left:33.60px;letter-spacing:0.37px;-webkit-text-stroke-width:0;">PZ 80-200/220</div><div style="top:771.00px;font-size:14px;line-height:16.00px;left:158.75px;width:70.00px;text-align:center;letter-spacing:-0.45px;">100x80</div><div style="top:771.00px;font-size:14px;line-height:16.00px;left:231.65px;width:40.00px;text-align:center;letter-spacing:-0.45px;">22</div><div style="top:771.00px;font-size:14px;line-height:16.00px;left:273.60px;width:40.00px;text-align:center;letter-spacing:-0.45px;">30</div><div style="top:771.00px;font-size:14px;line-height:16.00px;left:313.50px;width:50.00px;text-align:center;letter-spacing:-0.45px;">50</div><div style="top:771.00px;font-size:14px;line-height:16.00px;left:631.64px;width:50.00px;text-align:center;letter-spacing:-0.45px;">48.5</div><div style="top:771.00px;font-size:14px;line-height:16.00px;left:666.26px;width:50.00px;text-align:center;letter-spacing:-0.45px;">44.5</div><div style="top:771.00px;font-size:14px;line-height:16.00px;left:700.88px;width:50.00px;text-align:center;letter-spacing:-0.45px;">43</div><div style="top:771.00px;font-size:14px;line-height:16.00px;left:735.49px;width:50.00px;text-align:center;letter-spacing:-0.45px;">42</div><div style="top:771.00px;font-size:14px;line-height:16.00px;left:770.11px;width:50.00px;text-align:center;letter-spacing:-0.45px;">41</div><div style="top:771.00px;font-size:14px;line-height:16.00px;left:804.72px;width:50.00px;text-align:center;letter-spacing:-0.45px;">39</div><div style="top:771.00px;font-size:14px;line-height:16.00px;left:839.34px;width:50.00px;text-align:center;letter-spacing:-0.45px;">27.8</div><div style="top:771.00px;font-size:14px;line-height:16.00px;left:873.96px;width:50.00px;text-align:center;letter-spacing:-0.45px;">25</div><div class="b" style="top:792.00px;font-size:13.8px;line-height:15.00px;left:33.60px;letter-spacing:0.37px;-webkit-text-stroke-width:0;">PZ 80-200/300 <span style="color:#1b5ea9;font-size:13.5px;font-weight:normal;position:relative;top:2.3px;-webkit-text-stroke-width:0.45px">*</span></div><div style="top:791.00px;font-size:14px;line-height:16.00px;left:158.75px;width:70.00px;text-align:center;letter-spacing:-0.45px;">100x80</div><div style="top:791.00px;font-size:14px;line-height:16.00px;left:231.65px;width:40.00px;text-align:center;letter-spacing:-0.45px;">30</div><div style="top:791.00px;font-size:14px;line-height:16.00px;left:273.60px;width:40.00px;text-align:center;letter-spacing:-0.45px;">40</div><div style="top:791.00px;font-size:14px;line-height:16.00px;left:313.50px;width:50.00px;text-align:center;letter-spacing:-0.45px;">60</div><div style="top:791.00px;font-size:14px;line-height:16.00px;left:631.64px;width:50.00px;text-align:center;letter-spacing:-0.45px;">59</div><div style="top:791.00px;font-size:14px;line-height:16.00px;left:666.26px;width:50.00px;text-align:center;letter-spacing:-0.45px;">56</div><div style="top:791.00px;font-size:14px;line-height:16.00px;left:700.88px;width:50.00px;text-align:center;letter-spacing:-0.45px;">54.5</div><div style="top:791.00px;font-size:14px;line-height:16.00px;left:735.49px;width:50.00px;text-align:center;letter-spacing:-0.45px;">54</div><div style="top:791.00px;font-size:14px;line-height:16.00px;left:770.11px;width:50.00px;text-align:center;letter-spacing:-0.45px;">53</div><div style="top:791.00px;font-size:14px;line-height:16.00px;left:804.72px;width:50.00px;text-align:center;letter-spacing:-0.45px;">51</div><div style="top:791.00px;font-size:14px;line-height:16.00px;left:839.34px;width:50.00px;text-align:center;letter-spacing:-0.45px;">41.5</div><div style="top:791.00px;font-size:14px;line-height:16.00px;left:873.96px;width:50.00px;text-align:center;letter-spacing:-0.45px;">39</div><div style="top:791.00px;font-size:14px;line-height:16.00px;left:908.58px;width:50.00px;text-align:center;letter-spacing:-0.45px;">36.1</div><div style="top:791.00px;font-size:14px;line-height:16.00px;left:943.19px;width:50.00px;text-align:center;letter-spacing:-0.45px;">33</div><div class="b" style="top:813.00px;font-size:13.8px;line-height:15.00px;left:33.60px;letter-spacing:0.37px;-webkit-text-stroke-width:0;">PZ 80-200/370 <span style="color:#1b5ea9;font-size:13.5px;font-weight:normal;position:relative;top:2.3px;-webkit-text-stroke-width:0.45px">*</span></div><div style="top:812.00px;font-size:14px;line-height:16.00px;left:158.75px;width:70.00px;text-align:center;letter-spacing:-0.45px;">100x80</div><div style="top:812.00px;font-size:14px;line-height:16.00px;left:231.65px;width:40.00px;text-align:center;letter-spacing:-0.45px;">37</div><div style="top:812.00px;font-size:14px;line-height:16.00px;left:273.60px;width:40.00px;text-align:center;letter-spacing:-0.45px;">50</div><div style="top:812.00px;font-size:14px;line-height:16.00px;left:313.50px;width:50.00px;text-align:center;letter-spacing:-0.45px;">66</div><div style="top:812.00px;font-size:14px;line-height:16.00px;left:631.64px;width:50.00px;text-align:center;letter-spacing:-0.45px;">64</div><div style="top:812.00px;font-size:14px;line-height:16.00px;left:666.26px;width:50.00px;text-align:center;letter-spacing:-0.45px;">61</div><div style="top:812.00px;font-size:14px;line-height:16.00px;left:700.88px;width:50.00px;text-align:center;letter-spacing:-0.45px;">59.5</div><div style="top:812.00px;font-size:14px;line-height:16.00px;left:735.49px;width:50.00px;text-align:center;letter-spacing:-0.45px;">59</div><div style="top:812.00px;font-size:14px;line-height:16.00px;left:770.11px;width:50.00px;text-align:center;letter-spacing:-0.45px;">58</div><div style="top:812.00px;font-size:14px;line-height:16.00px;left:804.72px;width:50.00px;text-align:center;letter-spacing:-0.45px;">56.5</div><div style="top:812.00px;font-size:14px;line-height:16.00px;left:839.34px;width:50.00px;text-align:center;letter-spacing:-0.45px;">47</div><div style="top:812.00px;font-size:14px;line-height:16.00px;left:873.96px;width:50.00px;text-align:center;letter-spacing:-0.45px;">44.5</div><div style="top:812.00px;font-size:14px;line-height:16.00px;left:908.58px;width:50.00px;text-align:center;letter-spacing:-0.45px;">41.5</div><div style="top:812.00px;font-size:14px;line-height:16.00px;left:943.19px;width:50.00px;text-align:center;letter-spacing:-0.45px;">38.5</div>
</body></html>
